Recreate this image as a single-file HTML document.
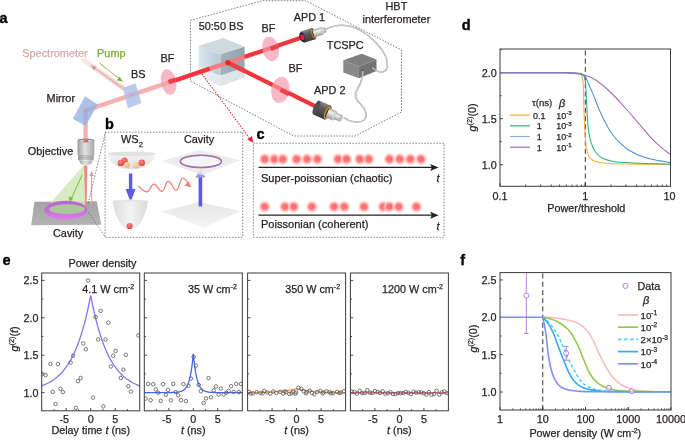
<!DOCTYPE html>
<html><head><meta charset="utf-8"><style>
html,body{margin:0;padding:0;background:#fff;}
body{width:685px;height:440px;overflow:hidden;}
svg{display:block;font-family:"Liberation Sans",sans-serif;will-change:transform;}
</style></head><body>
<svg width="685" height="440" viewBox="0 0 685 440">
<rect width="685" height="440" fill="#fff"/>
<defs>
<linearGradient id="gDark" x1="0" y1="0" x2="0" y2="1">
 <stop offset="0" stop-color="#8a8a8a"/><stop offset="0.35" stop-color="#5c5c5c"/><stop offset="1" stop-color="#3a3a3a"/>
</linearGradient>
<linearGradient id="gSilver" x1="0" y1="0" x2="0" y2="1">
 <stop offset="0" stop-color="#a8a8a8"/><stop offset="0.35" stop-color="#f2f2f2"/><stop offset="1" stop-color="#9a9a9a"/>
</linearGradient>
<linearGradient id="gObj" x1="0" y1="0" x2="1" y2="0">
 <stop offset="0" stop-color="#9c9c9c"/><stop offset="0.45" stop-color="#e4e4e4"/><stop offset="1" stop-color="#a4a4a4"/>
</linearGradient>
<linearGradient id="gCubeL" x1="0" y1="0" x2="1" y2="0">
 <stop offset="0" stop-color="#dce8f0"/><stop offset="1" stop-color="#b9c9d3"/>
</linearGradient>
<linearGradient id="gCubeR" x1="0" y1="0" x2="1" y2="0">
 <stop offset="0" stop-color="#a3b3bd"/><stop offset="1" stop-color="#93a4ae"/>
</linearGradient>
<linearGradient id="gCubeBot" x1="0" y1="0" x2="0" y2="1">
 <stop offset="0" stop-color="#ffffff" stop-opacity="0"/><stop offset="1" stop-color="#ffffff" stop-opacity="0.55"/>
</linearGradient>
<linearGradient id="gPlate" x1="0" y1="0" x2="0" y2="1">
 <stop offset="0" stop-color="#a4a4a4"/><stop offset="1" stop-color="#b2b2b2"/>
</linearGradient>
<linearGradient id="gRing" x1="0" y1="0" x2="0" y2="1">
 <stop offset="0" stop-color="#bb62d2"/><stop offset="0.5" stop-color="#c868dc"/><stop offset="1" stop-color="#e07cf2"/>
</linearGradient>
<linearGradient id="gTcF" x1="0" y1="0" x2="0" y2="1">
 <stop offset="0" stop-color="#7a7a7a"/><stop offset="1" stop-color="#6a6a6a"/>
</linearGradient>
<marker id="mRed" viewBox="0 0 10 10" refX="9" refY="5" markerWidth="5" markerHeight="5" orient="auto" markerUnits="userSpaceOnUse"><path d="M0,0 L10,5 L0,10 z" fill="#e8202a"/></marker>
</defs>
<path d="M190.4,20.4 L262.3,0.7 L305.7,0.7 L401.5,50.0 L401.5,112.0 L355.0,136.0 L293.6,136.0 L190.4,81.0 Z" fill="none" stroke="#555" stroke-width="0.75" stroke-dasharray="1.6,1.4"/>
<polygon points="198.5,45.9 223.2,37.9 244.6,46.7 220.0,54.6" fill="#cfd9df"/>
<polygon points="198.5,45.9 220.0,54.6 220.0,86.0 198.5,74.5" fill="url(#gCubeL)"/>
<polygon points="220.0,54.6 244.6,46.7 244.6,76.9 220.0,86.0" fill="url(#gCubeR)"/>
<polygon points="198.5,66.0 220.0,75.5 244.6,67.5 244.6,76.9 220.0,86.0 198.5,74.5" fill="#e9eef2" opacity="0.85"/>
<line x1="220" y1="54.6" x2="220" y2="86" stroke="#eef3f6" stroke-width="0.6"/>
<linearGradient id="gGlow" gradientUnits="userSpaceOnUse" x1="83" y1="60" x2="122.8" y2="87.9"><stop offset="0" stop-color="#fde6e6"/><stop offset="1" stop-color="#f9cccc"/></linearGradient>
<line x1="122.8" y1="87.9" x2="83.5" y2="60.2" stroke="url(#gGlow)" stroke-width="4.6" stroke-linecap="round"/>
<line x1="85.0" y1="110.6" x2="168.4" y2="82.6" stroke="#f5b0b0" stroke-width="4.3"/>
<line x1="168.4" y1="82.6" x2="210.0" y2="68.6" stroke="#f2353c" stroke-width="4.3"/>
<line x1="210.0" y1="68.6" x2="244.6" y2="57.0" stroke="#f27c82" stroke-width="4.3"/>
<line x1="244.6" y1="56.9" x2="302.3" y2="37.2" stroke="#f2353c" stroke-width="4.3"/>
<line x1="227.9" y1="62.6" x2="315.5" y2="106.4" stroke="#f2353c" stroke-width="4.3"/>
<line x1="229.9" y1="63.6" x2="244.6" y2="71.0" stroke="#e5444b" stroke-width="4.3"/>
<circle cx="227.9" cy="62.6" r="2.6" fill="#d82a32"/>
<line x1="85.6" y1="110.6" x2="85.6" y2="142" stroke="#f5b0b0" stroke-width="4.3"/>
<ellipse cx="168.6" cy="82.0" rx="7.6" ry="13.0" fill="#f59aae" opacity="0.7" transform="rotate(-11 168.6 82.0)"/>
<line x1="168.60" y1="82.00" x2="175.59" y2="79.65" stroke="#f2353c" stroke-width="4.3" opacity="0.85"/>
<ellipse cx="270.6" cy="48.9" rx="8.3" ry="12.4" fill="#f59aae" opacity="0.7" transform="rotate(-13 270.6 48.9)"/>
<line x1="270.60" y1="48.90" x2="278.24" y2="46.29" stroke="#f2353c" stroke-width="4.3" opacity="0.85"/>
<ellipse cx="280.4" cy="89.9" rx="9.2" ry="13.2" fill="#f59aae" opacity="0.7" transform="rotate(10 280.4 89.9)"/>
<line x1="280.40" y1="89.90" x2="288.86" y2="94.13" stroke="#f2353c" stroke-width="4.3" opacity="0.85"/>
<polygon points="122.8,87.9 135.6,83.2 141.5,103.1 127.9,108.2" fill="#a9bde6" opacity="0.78"/>
<circle cx="131.8" cy="94.9" r="1.8" fill="#e09aa8" opacity="0.7"/>
<polygon points="85,96.2 97.7,104.4 85.5,125.9 72.8,118.7" fill="#93b0e2" opacity="0.78"/>
<circle cx="85.2" cy="110.8" r="1.8" fill="#d890a0" opacity="0.7"/>
<line x1="121.5" y1="87.2" x2="93.5" y2="67.3" stroke="#c99a9a" stroke-width="0.9"/>
<path d="M90.6,65.2 L96.6,67.1 L94.2,70.4 Z" fill="#c99a9a"/>
<line x1="99.4" y1="62.9" x2="119.5" y2="79" stroke="#76b82a" stroke-width="0.9"/>
<path d="M123,81.8 L116.8,80.3 L119.6,76.7 Z" fill="#76b82a"/>
<rect x="77.5" y="140.2" width="16.8" height="14.6" fill="url(#gObj)"/>
<ellipse cx="85.9" cy="140.4" rx="8.3" ry="1.9" fill="#8a8a8a"/>
<ellipse cx="85.9" cy="140.9" rx="7.2" ry="1.3" fill="#cfcfcf"/>
<rect x="83.6" y="139.6" width="4.6" height="2.6" fill="#c45a5a" opacity="0.8"/>
<rect x="78.2" y="154.6" width="15.4" height="5.8" fill="url(#gObj)"/>
<g stroke="#8a8a8a" stroke-width="0.5"><line x1="78.2" y1="155.8" x2="93.6" y2="155.8"/><line x1="78.2" y1="157.4" x2="93.6" y2="157.4"/><line x1="78.2" y1="159" x2="93.6" y2="159"/></g>
<path d="M79,160.4 L92.7,160.4 L91,164 Q85.9,166.2 80.8,164 Z" fill="url(#gObj)"/>
<polygon points="34.5,201.8 96.7,201.2 101.3,224.7 31.2,225.2" fill="url(#gPlate)"/>
<polygon points="83.6,165.5 86.2,165.5 86.2,206 50.3,203" fill="#cde6b6" opacity="0.8"/>
<ellipse cx="65.9" cy="210.15" rx="21.5" ry="9.35" fill="url(#gRing)"/>
<ellipse cx="67.0" cy="209.2" rx="17.8" ry="4.9" fill="#a9c79a"/>
<polygon points="84.2,165.5 87.4,165.5 86.5,207.5 85.2,207.5" fill="#f07a7a" opacity="0.9"/>
<line x1="82" y1="175.1" x2="71.2" y2="199" stroke="#78c030" stroke-width="1"/>
<path d="M69.7,202.6 L68.8,196.3 L73.2,198.3 Z" fill="#78c030"/>
<line x1="91.6" y1="206" x2="91.6" y2="174.5" stroke="#d8a2aa" stroke-width="1"/>
<path d="M91.6,170.8 L94,176 L89.2,176 Z" fill="#d8a2aa"/>
<g stroke="#555" stroke-width="0.7" stroke-dasharray="1.5,1.5" fill="none">
<line x1="88.2" y1="203" x2="105.5" y2="132.3"/>
<line x1="88.2" y1="212" x2="105.5" y2="237.3"/>
</g>
<g transform="translate(302.30,37.20) rotate(-17.70)"><rect x="0" y="-5.90" width="11.80" height="11.80" fill="url(#gDark)"/><ellipse cx="11.80" cy="0" rx="2.12" ry="5.90" fill="#3a3a3a"/><ellipse cx="12.00" cy="0" rx="1.77" ry="4.72" fill="none" stroke="#d9901c" stroke-width="1.00"/><rect x="11.80" y="-3.90" width="9.50" height="7.80" fill="url(#gSilver)"/><ellipse cx="21.30" cy="0" rx="1.36" ry="3.90" fill="#cfcfcf"/><rect x="21.30" y="-2.50" width="2.60" height="5.00" fill="url(#gSilver)"/><ellipse cx="23.90" cy="0" rx="0.88" ry="2.50" fill="#c4c4c4" stroke="#999" stroke-width="0.3"/><ellipse cx="0" cy="0" rx="2.66" ry="5.31" fill="#1c2348"/><ellipse cx="0.2" cy="0" rx="1.89" ry="2.95" fill="#e8202a"/></g>
<g transform="translate(316.40,107.60) rotate(24.00)"><rect x="0" y="-7.60" width="12.20" height="15.20" fill="url(#gDark)"/><ellipse cx="12.20" cy="0" rx="2.74" ry="7.60" fill="#3a3a3a"/><ellipse cx="12.40" cy="0" rx="2.28" ry="6.08" fill="none" stroke="#d9901c" stroke-width="1.29"/><rect x="12.20" y="-5.00" width="8.00" height="10.00" fill="url(#gSilver)"/><ellipse cx="20.20" cy="0" rx="1.75" ry="5.00" fill="#cfcfcf"/><rect x="20.20" y="-3.40" width="6.50" height="6.80" fill="url(#gSilver)"/><ellipse cx="26.70" cy="0" rx="1.19" ry="3.40" fill="#c4c4c4" stroke="#999" stroke-width="0.3"/><ellipse cx="0" cy="0" rx="2.74" ry="7.60" fill="#505050"/></g>
<polygon points="343.3,60.3 361.8,53.7 376.5,59.5 358.9,66.4" fill="#7f7f7f"/>
<polygon points="343.3,60.3 358.9,66.4 358.9,78.3 343.3,72.6" fill="#888888"/>
<polygon points="358.9,66.4 376.5,59.5 376.5,71 358.9,78.3" fill="#747474"/>
<ellipse cx="362.6" cy="70.6" rx="1.3" ry="1.5" fill="#5c5c5c"/>
<ellipse cx="371.6" cy="66.9" rx="1.3" ry="1.5" fill="#5c5c5c"/>
<path d="M324.8,29.8 C330,27 336,25.2 343,25.3 C352,25.5 360,29 368,35.5 C376,42 382,48 385.5,56 C388.5,63 388,70 383.5,71.8 C379.5,73 375,70 371.8,67.2" fill="none" stroke="#9a9a9a" stroke-width="1.5"/>
<path d="M324.8,29.8 C330,27 336,25.2 343,25.3 C352,25.5 360,29 368,35.5 C376,42 382,48 385.5,56 C388.5,63 388,70 383.5,71.8 C379.5,73 375,70 371.8,67.2" fill="none" stroke="#f4f4f4" stroke-width="0.6"/>
<path d="M362.8,71 C363.2,78 360.5,84 357.5,89 C354,94 355.5,99.5 360.5,104 C366,109 368,116 364,120 C359,124 349,121.5 343.8,117.6" fill="none" stroke="#9a9a9a" stroke-width="1.5"/>
<path d="M362.8,71 C363.2,78 360.5,84 357.5,89 C354,94 355.5,99.5 360.5,104 C366,109 368,116 364,120 C359,124 349,121.5 343.8,117.6" fill="none" stroke="#f4f4f4" stroke-width="0.6"/>
<line x1="201.8" y1="73.8" x2="249.0" y2="137.4" stroke="#e41e26" stroke-width="1.05" stroke-dasharray="1.5,1.3"/>
<path d="M253.4,142.7 L247.2,139.5 L251.9,135.9 Z" fill="#e8202a"/>
<text x="22.3" y="56.8" font-size="10.9" text-anchor="start" fill="#d2a9aa" stroke="#d2a9aa" stroke-width="0.25" font-weight="normal" font-style="normal" >Spectrometer</text>
<text x="97.1" y="56.8" font-size="10.9" text-anchor="start" fill="#7aab2e" stroke="#7aab2e" stroke-width="0.25" font-weight="normal" font-style="normal" >Pump</text>
<text x="131" y="77.8" font-size="10.9" text-anchor="start" fill="#2a2324" stroke="#2a2324" stroke-width="0.25" font-weight="normal" font-style="normal" >BS</text>
<text x="160.6" y="62.2" font-size="10.9" text-anchor="start" fill="#2a2324" stroke="#2a2324" stroke-width="0.25" font-weight="normal" font-style="normal" >BF</text>
<text x="46.6" y="102" font-size="10.9" text-anchor="start" fill="#2a2324" stroke="#2a2324" stroke-width="0.25" font-weight="normal" font-style="normal" >Mirror</text>
<text x="27.8" y="154.5" font-size="10.9" text-anchor="start" fill="#2a2324" stroke="#2a2324" stroke-width="0.25" font-weight="normal" font-style="normal" >Objective</text>
<text x="53" y="236.6" font-size="10.9" text-anchor="start" fill="#2a2324" stroke="#2a2324" stroke-width="0.25" font-weight="normal" font-style="normal" >Cavity</text>
<text x="198.7" y="29.6" font-size="10.9" text-anchor="start" fill="#2a2324" stroke="#2a2324" stroke-width="0.25" font-weight="normal" font-style="normal" >50:50 BS</text>
<text x="261.6" y="31.8" font-size="10.9" text-anchor="start" fill="#2a2324" stroke="#2a2324" stroke-width="0.25" font-weight="normal" font-style="normal" >BF</text>
<text x="288.6" y="71.9" font-size="10.9" text-anchor="start" fill="#2a2324" stroke="#2a2324" stroke-width="0.25" font-weight="normal" font-style="normal" >BF</text>
<text x="293.7" y="20.6" font-size="10.9" text-anchor="start" fill="#2a2324" stroke="#2a2324" stroke-width="0.25" font-weight="normal" font-style="normal" >APD 1</text>
<text x="314" y="94.2" font-size="10.9" text-anchor="start" fill="#2a2324" stroke="#2a2324" stroke-width="0.25" font-weight="normal" font-style="normal" >APD 2</text>
<text x="326.8" y="49.1" font-size="10.9" text-anchor="start" fill="#2a2324" stroke="#2a2324" stroke-width="0.25" font-weight="normal" font-style="normal" >TCSPC</text>
<text x="396.4" y="9.9" font-size="10.9" text-anchor="middle" fill="#2a2324" stroke="#2a2324" stroke-width="0.25" font-weight="normal" font-style="normal" >HBT</text>
<text x="396.4" y="22.6" font-size="10.9" text-anchor="middle" fill="#2a2324" stroke="#2a2324" stroke-width="0.25" font-weight="normal" font-style="normal" >interferometer</text>
<defs>
<linearGradient id="gBowl" x1="0" y1="0" x2="0" y2="1">
 <stop offset="0" stop-color="#f4f4f4"/><stop offset="1" stop-color="#dedede"/>
</linearGradient>
<linearGradient id="gBowl2" x1="0" y1="0" x2="1" y2="0">
 <stop offset="0" stop-color="#dcdcdc"/><stop offset="0.5" stop-color="#f3f3f3"/><stop offset="1" stop-color="#dadada"/>
</linearGradient>
<radialGradient id="gRedDot" cx="0.4" cy="0.35" r="0.7">
 <stop offset="0" stop-color="#ff8a7a"/><stop offset="1" stop-color="#e03c3c"/>
</radialGradient>
<radialGradient id="gPeach" cx="0.4" cy="0.35" r="0.7">
 <stop offset="0" stop-color="#fde0b0"/><stop offset="1" stop-color="#eab070"/>
</radialGradient>
<linearGradient id="gPlane" x1="0" y1="0" x2="0" y2="1">
 <stop offset="0" stop-color="#e6e6e6"/><stop offset="1" stop-color="#f4f4f4"/>
</linearGradient>
</defs>
<rect x="105" y="132.2" width="137.7" height="105.1" fill="none" stroke="#555" stroke-width="0.7" stroke-dasharray="1.5,1.5"/>
<path d="M107.9,153.8 A23.65,15.4 0 0 0 155.2,153.8 Z" fill="url(#gBowl)"/>
<ellipse cx="131.55" cy="153.8" rx="23.65" ry="1.9" fill="#e2e2e2" stroke="#d4d4d4" stroke-width="0.4"/>
<circle cx="124.5" cy="160.6" r="3.1" fill="url(#gRedDot)"/>
<circle cx="120.8" cy="162.9" r="3.2" fill="url(#gRedDot)"/>
<circle cx="126.9" cy="165.0" r="3.0" fill="url(#gPeach)"/>
<circle cx="141.8" cy="162.7" r="3.2" fill="url(#gRedDot)"/>
<circle cx="136.2" cy="165.5" r="3.0" fill="url(#gPeach)"/>
<rect x="128.9" y="173.5" width="3.4" height="16" fill="#5b5be6"/>
<path d="M125.6,189 L135.6,189 L130.6,202 Z" fill="#5b5be6"/>
<path d="M112.6,200.9 C114,214 121,229.4 130.3,229.4 C139.6,229.4 146.4,214 147.9,200.9 Z" fill="url(#gBowl2)"/>
<ellipse cx="130.25" cy="200.9" rx="17.65" ry="1.3" fill="#e6e6e6"/>
<circle cx="129.6" cy="226" r="3.1" fill="url(#gRedDot)"/>
<path d="M138.8,186.1 C141.5,189.6 144,191.8 146.9,191.8 C150.45,191.80 150.45,184.20 154.00,184.20 C158.00,184.20 158.00,191.30 162.00,191.30 C165.10,191.30 165.10,181.40 168.20,181.40 C172.25,181.40 172.25,189.90 176.30,189.90 C179.60,189.90 179.60,178.10 182.90,178.10 C185,178.1 186.8,180.5 188.4,184.3" fill="none" stroke="#f17f70" stroke-width="1.25" stroke-linecap="round"/>
<path d="M191.3,187.6 L184.4,185.6 L188.9,181.6 Z" fill="#f17f70"/>
<polygon points="162.2,211.5 199,201.9 240.5,210.9 203.7,227.8" fill="url(#gPlane)"/>
<rect x="198.6" y="176" width="3.6" height="30.4" fill="#5b5be6"/>
<path d="M195.2,177.5 L205.6,177.5 L200.4,169.5 Z" fill="#9a9ae0"/>
<polygon points="161.5,161 199.6,150.1 239.9,160.3 202.5,175.3" fill="#e9e9e9" opacity="0.8"/>
<ellipse cx="200.9" cy="161.4" rx="20.6" ry="6.2" fill="#f6f6f6" stroke="#ffffff" stroke-width="2" opacity="0.9"/>
<ellipse cx="200.9" cy="161.4" rx="20.6" ry="6.2" fill="none" stroke="#6a78e8" stroke-width="1.5"/>
<ellipse cx="200.9" cy="161.4" rx="20.6" ry="6.2" fill="none" stroke="#ef6458" stroke-width="1.5" stroke-dasharray="1.2,1.3"/>
<text x="121.1" y="143.4" font-size="10.9" text-anchor="start" fill="#2a2324" stroke="#2a2324" stroke-width="0.25" font-weight="normal" font-style="normal" >WS<tspan font-size="7.5" dy="3.2">2</tspan></text>
<text x="199.1" y="143.4" font-size="10.9" text-anchor="middle" fill="#2a2324" stroke="#2a2324" stroke-width="0.25" font-weight="normal" font-style="normal" >Cavity</text>
<defs>
<radialGradient id="gBlob">
 <stop offset="0" stop-color="#ff6666"/><stop offset="0.38" stop-color="#ff6c6c"/><stop offset="0.5" stop-color="#ff9898"/><stop offset="0.74" stop-color="#ffc2c2" stop-opacity="0.75"/><stop offset="1" stop-color="#ffdcdc" stop-opacity="0"/>
</radialGradient>
</defs>
<rect x="253.4" y="143.3" width="190.7" height="94" fill="none" stroke="#555" stroke-width="0.7" stroke-dasharray="1.5,1.5"/>
<circle cx="264.7" cy="159.1" r="6.6" fill="url(#gBlob)"/>
<circle cx="274.4" cy="159.1" r="6.6" fill="url(#gBlob)"/>
<circle cx="282.7" cy="159.1" r="6.6" fill="url(#gBlob)"/>
<circle cx="296.6" cy="159.1" r="6.6" fill="url(#gBlob)"/>
<circle cx="307.1" cy="159.1" r="6.6" fill="url(#gBlob)"/>
<circle cx="317.4" cy="159.1" r="6.6" fill="url(#gBlob)"/>
<circle cx="338.2" cy="159.1" r="6.6" fill="url(#gBlob)"/>
<circle cx="346.5" cy="159.1" r="6.6" fill="url(#gBlob)"/>
<circle cx="359.9" cy="159.1" r="6.6" fill="url(#gBlob)"/>
<circle cx="368.7" cy="159.1" r="6.6" fill="url(#gBlob)"/>
<circle cx="389.5" cy="159.1" r="6.6" fill="url(#gBlob)"/>
<circle cx="399.8" cy="159.1" r="6.6" fill="url(#gBlob)"/>
<circle cx="410.3" cy="159.1" r="6.6" fill="url(#gBlob)"/>
<circle cx="420.9" cy="159.1" r="6.6" fill="url(#gBlob)"/>
<path d="M265.6,157.8 a1.3,1.6 0 1 0 0.2,2.6" fill="none" stroke="#ffa8a8" stroke-width="0.55" opacity="0.8"/>
<path d="M275.3,157.8 a1.3,1.6 0 1 0 0.2,2.6" fill="none" stroke="#ffa8a8" stroke-width="0.55" opacity="0.8"/>
<path d="M283.6,157.8 a1.3,1.6 0 1 0 0.2,2.6" fill="none" stroke="#ffa8a8" stroke-width="0.55" opacity="0.8"/>
<path d="M297.5,157.8 a1.3,1.6 0 1 0 0.2,2.6" fill="none" stroke="#ffa8a8" stroke-width="0.55" opacity="0.8"/>
<path d="M308.0,157.8 a1.3,1.6 0 1 0 0.2,2.6" fill="none" stroke="#ffa8a8" stroke-width="0.55" opacity="0.8"/>
<path d="M318.3,157.8 a1.3,1.6 0 1 0 0.2,2.6" fill="none" stroke="#ffa8a8" stroke-width="0.55" opacity="0.8"/>
<path d="M339.1,157.8 a1.3,1.6 0 1 0 0.2,2.6" fill="none" stroke="#ffa8a8" stroke-width="0.55" opacity="0.8"/>
<path d="M347.4,157.8 a1.3,1.6 0 1 0 0.2,2.6" fill="none" stroke="#ffa8a8" stroke-width="0.55" opacity="0.8"/>
<path d="M360.8,157.8 a1.3,1.6 0 1 0 0.2,2.6" fill="none" stroke="#ffa8a8" stroke-width="0.55" opacity="0.8"/>
<path d="M369.6,157.8 a1.3,1.6 0 1 0 0.2,2.6" fill="none" stroke="#ffa8a8" stroke-width="0.55" opacity="0.8"/>
<path d="M390.4,157.8 a1.3,1.6 0 1 0 0.2,2.6" fill="none" stroke="#ffa8a8" stroke-width="0.55" opacity="0.8"/>
<path d="M400.7,157.8 a1.3,1.6 0 1 0 0.2,2.6" fill="none" stroke="#ffa8a8" stroke-width="0.55" opacity="0.8"/>
<path d="M411.2,157.8 a1.3,1.6 0 1 0 0.2,2.6" fill="none" stroke="#ffa8a8" stroke-width="0.55" opacity="0.8"/>
<path d="M421.8,157.8 a1.3,1.6 0 1 0 0.2,2.6" fill="none" stroke="#ffa8a8" stroke-width="0.55" opacity="0.8"/>
<circle cx="264.7" cy="206.7" r="6.6" fill="url(#gBlob)"/>
<circle cx="285.0" cy="206.7" r="6.6" fill="url(#gBlob)"/>
<circle cx="293.8" cy="206.7" r="6.6" fill="url(#gBlob)"/>
<circle cx="311.9" cy="206.7" r="6.6" fill="url(#gBlob)"/>
<circle cx="334.1" cy="206.7" r="6.6" fill="url(#gBlob)"/>
<circle cx="344.3" cy="206.7" r="6.6" fill="url(#gBlob)"/>
<circle cx="364.0" cy="206.7" r="6.6" fill="url(#gBlob)"/>
<circle cx="383.2" cy="206.7" r="6.6" fill="url(#gBlob)"/>
<circle cx="389.5" cy="206.7" r="6.6" fill="url(#gBlob)"/>
<circle cx="398.7" cy="206.7" r="6.6" fill="url(#gBlob)"/>
<circle cx="416.4" cy="206.7" r="6.6" fill="url(#gBlob)"/>
<path d="M265.6,205.4 a1.3,1.6 0 1 0 0.2,2.6" fill="none" stroke="#ffa8a8" stroke-width="0.55" opacity="0.8"/>
<path d="M285.9,205.4 a1.3,1.6 0 1 0 0.2,2.6" fill="none" stroke="#ffa8a8" stroke-width="0.55" opacity="0.8"/>
<path d="M294.7,205.4 a1.3,1.6 0 1 0 0.2,2.6" fill="none" stroke="#ffa8a8" stroke-width="0.55" opacity="0.8"/>
<path d="M312.8,205.4 a1.3,1.6 0 1 0 0.2,2.6" fill="none" stroke="#ffa8a8" stroke-width="0.55" opacity="0.8"/>
<path d="M335.0,205.4 a1.3,1.6 0 1 0 0.2,2.6" fill="none" stroke="#ffa8a8" stroke-width="0.55" opacity="0.8"/>
<path d="M345.2,205.4 a1.3,1.6 0 1 0 0.2,2.6" fill="none" stroke="#ffa8a8" stroke-width="0.55" opacity="0.8"/>
<path d="M364.9,205.4 a1.3,1.6 0 1 0 0.2,2.6" fill="none" stroke="#ffa8a8" stroke-width="0.55" opacity="0.8"/>
<path d="M384.1,205.4 a1.3,1.6 0 1 0 0.2,2.6" fill="none" stroke="#ffa8a8" stroke-width="0.55" opacity="0.8"/>
<path d="M390.4,205.4 a1.3,1.6 0 1 0 0.2,2.6" fill="none" stroke="#ffa8a8" stroke-width="0.55" opacity="0.8"/>
<path d="M399.6,205.4 a1.3,1.6 0 1 0 0.2,2.6" fill="none" stroke="#ffa8a8" stroke-width="0.55" opacity="0.8"/>
<path d="M417.3,205.4 a1.3,1.6 0 1 0 0.2,2.6" fill="none" stroke="#ffa8a8" stroke-width="0.55" opacity="0.8"/>
<line x1="258.5" y1="167.4" x2="432" y2="167.4" stroke="#231f20" stroke-width="1.2"/>
<path d="M438.6,167.4 L430.2,163.9 L431.8,167.4 L430.2,170.9 Z" fill="#231f20"/>
<line x1="258.5" y1="215.2" x2="432" y2="215.2" stroke="#231f20" stroke-width="1.2"/>
<path d="M438.6,215.2 L430.2,211.7 L431.8,215.2 L430.2,218.7 Z" fill="#231f20"/>
<text x="261" y="181.7" font-size="11.05" text-anchor="start" fill="#2a2324" stroke="#2a2324" stroke-width="0.25" font-weight="normal" font-style="normal" >Super-poissonian (chaotic)</text>
<text x="261" y="228.4" font-size="11.05" text-anchor="start" fill="#2a2324" stroke="#2a2324" stroke-width="0.25" font-weight="normal" font-style="normal" >Poissonian (coherent)</text>
<text x="436.6" y="182" font-size="10.9" text-anchor="start" fill="#2a2324" stroke="#2a2324" stroke-width="0.25" font-weight="normal" font-style="italic" >t</text>
<text x="436.6" y="229.8" font-size="10.9" text-anchor="start" fill="#2a2324" stroke="#2a2324" stroke-width="0.25" font-weight="normal" font-style="italic" >t</text>
<g stroke="#333" stroke-width="0.9"><line x1="500" y1="72.7" x2="503" y2="72.7"/><line x1="500" y1="118.7" x2="503" y2="118.7"/><line x1="500" y1="164.7" x2="503" y2="164.7"/><line x1="500" y1="49.7" x2="501.8" y2="49.7"/><line x1="500" y1="95.7" x2="501.8" y2="95.7"/><line x1="500" y1="141.7" x2="501.8" y2="141.7"/><line x1="500" y1="186.3" x2="500" y2="183.3"/><line x1="525.66" y1="186.3" x2="525.66" y2="184.5"/><line x1="540.67" y1="186.3" x2="540.67" y2="184.5"/><line x1="551.33" y1="186.3" x2="551.33" y2="184.5"/><line x1="559.59" y1="186.3" x2="559.59" y2="184.5"/><line x1="566.34" y1="186.3" x2="566.34" y2="184.5"/><line x1="572.04" y1="186.3" x2="572.04" y2="184.5"/><line x1="576.99" y1="186.3" x2="576.99" y2="184.5"/><line x1="581.35" y1="186.3" x2="581.35" y2="184.5"/><line x1="585.25" y1="186.3" x2="585.25" y2="183.3"/><line x1="585.25" y1="186.3" x2="585.25" y2="183.3"/><line x1="610.91" y1="186.3" x2="610.91" y2="184.5"/><line x1="625.92" y1="186.3" x2="625.92" y2="184.5"/><line x1="636.58" y1="186.3" x2="636.58" y2="184.5"/><line x1="644.84" y1="186.3" x2="644.84" y2="184.5"/><line x1="651.59" y1="186.3" x2="651.59" y2="184.5"/><line x1="657.29" y1="186.3" x2="657.29" y2="184.5"/><line x1="662.24" y1="186.3" x2="662.24" y2="184.5"/><line x1="666.6" y1="186.3" x2="666.6" y2="184.5"/><line x1="670.5" y1="186.3" x2="670.5" y2="183.3"/></g>
<line x1="585.3" y1="50.5" x2="585.3" y2="186.3" stroke="#333" stroke-width="1" stroke-dasharray="5,3.2"/>
<path d="M500,72.7 C510.83,72.7 552.5,72.62 565,72.7 C577.5,72.78 572.62,73.05 575,73.2 C577.38,73.35 578.13,73.05 579.3,73.6 C580.47,74.15 581.33,74.42 582,76.5 C582.67,78.58 582.97,80.15 583.3,86.1 C583.63,92.05 583.67,103.5 584,112.2 C584.33,120.9 584.77,131.78 585.3,138.3 C585.83,144.82 586.45,148.05 587.2,151.3 C587.95,154.55 588.28,156.07 589.8,157.8 C591.32,159.53 593.48,160.8 596.3,161.7 C599.12,162.6 601.92,162.82 606.7,163.2 C611.48,163.58 614.37,163.8 625,164 C635.63,164.2 662.92,164.33 670.5,164.4" fill="none" stroke="#f2b134" stroke-width="1.05"/>
<path d="M500,72.7 C510.83,72.7 552.17,72.62 565,72.7 C577.83,72.78 574.05,72.93 577,73.2 C579.95,73.47 581.32,73.02 582.7,74.3 C584.08,75.58 584.68,76.77 585.3,80.9 C585.92,85.03 585.95,91.72 586.4,99.1 C586.85,106.48 587.3,118.23 588,125.2 C588.7,132.17 589.43,136.55 590.6,140.9 C591.77,145.25 593.18,148.48 595,151.3 C596.82,154.12 598.67,156.15 601.5,157.8 C604.33,159.45 608.08,160.4 612,161.2 C615.92,162 619.5,162.22 625,162.6 C630.5,162.98 637.42,163.27 645,163.5 C652.58,163.73 666.25,163.92 670.5,164" fill="none" stroke="#2bb08c" stroke-width="1.05"/>
<path d="M500,72.7 C510.83,72.7 552.17,72.6 565,72.7 C577.83,72.8 573.73,72.8 577,73.3 C580.27,73.8 582.95,74.58 584.6,75.7 C586.25,76.82 585.95,77.95 586.9,80 C587.85,82.05 589.15,85.35 590.3,88 C591.45,90.65 592.17,91.93 593.8,95.9 C595.43,99.87 597.72,106.48 600.1,111.8 C602.48,117.12 605.78,123.68 608.1,127.8 C610.42,131.92 611.88,133.85 614,136.5 C616.12,139.15 618.47,141.53 620.8,143.7 C623.13,145.87 625.1,147.63 628,149.5 C630.9,151.37 634.23,153.27 638.2,154.9 C642.17,156.53 646.42,158.02 651.8,159.3 C657.18,160.58 667.38,162.05 670.5,162.6" fill="none" stroke="#4a90c8" stroke-width="1.05"/>
<path d="M500,72.7 C509.17,72.7 543.67,72.67 555,72.7 C566.33,72.73 564.33,72.73 568,72.9 C571.67,73.07 574.17,73.32 577,73.7 C579.83,74.08 581.82,74.12 585,75.2 C588.18,76.28 591.8,77.32 596.1,80.2 C600.4,83.08 606.02,87.95 610.8,92.5 C615.58,97.05 620.23,102.43 624.8,107.5 C629.37,112.57 633.7,117.72 638.2,122.9 C642.7,128.08 648,134.55 651.8,138.6 C655.6,142.65 657.88,144.53 661,147.2 C664.12,149.87 668.92,153.37 670.5,154.6" fill="none" stroke="#a567c0" stroke-width="1.05"/>
<rect x="500.0" y="49.0" width="170.5" height="137.3" fill="none" stroke="#3a3a3a" stroke-width="1.0"/>
<text x="496.8" y="76.6" font-size="10.8" text-anchor="end" fill="#2a2324" stroke="#2a2324" stroke-width="0.25" font-weight="normal" font-style="normal" >2.0</text>
<text x="496.8" y="122.6" font-size="10.8" text-anchor="end" fill="#2a2324" stroke="#2a2324" stroke-width="0.25" font-weight="normal" font-style="normal" >1.5</text>
<text x="496.8" y="168.6" font-size="10.8" text-anchor="end" fill="#2a2324" stroke="#2a2324" stroke-width="0.25" font-weight="normal" font-style="normal" >1.0</text>
<text x="500" y="199.6" font-size="10.8" text-anchor="middle" fill="#2a2324" stroke="#2a2324" stroke-width="0.25" font-weight="normal" font-style="normal" >0.1</text>
<text x="585.25" y="199.6" font-size="10.8" text-anchor="middle" fill="#2a2324" stroke="#2a2324" stroke-width="0.25" font-weight="normal" font-style="normal" >1</text>
<text x="669.5" y="199.6" font-size="10.8" text-anchor="middle" fill="#2a2324" stroke="#2a2324" stroke-width="0.25" font-weight="normal" font-style="normal" >10</text>
<text x="586.3" y="212.3" font-size="10.8" text-anchor="middle" fill="#2a2324" stroke="#2a2324" stroke-width="0.25" font-weight="normal" font-style="normal" >Power/threshold</text>
<text transform="translate(476.2,117.4) rotate(-90)" font-size="10.8" text-anchor="middle" fill="#2a2324" stroke="#2a2324" stroke-width="0.25"><tspan font-style="italic">g</tspan><tspan font-size="7.2" dy="-4">(2)</tspan><tspan dy="4">(0)</tspan></text>
<text x="532" y="106.4" font-size="9.6" text-anchor="start" fill="#2a2324" stroke="#2a2324" stroke-width="0.25" font-weight="normal" font-style="normal" >&#964;(ns)</text>
<text x="559" y="106.6" font-size="10.8" text-anchor="start" fill="#2a2324" stroke="#2a2324" stroke-width="0.25" font-weight="normal" font-style="italic" >&#946;</text>
<line x1="509.9" y1="115.1" x2="529.9" y2="115.1" stroke="#f2b134" stroke-width="1.2"/>
<text x="539.2" y="118.5" font-size="9.0" text-anchor="middle" fill="#2a2324" stroke="#2a2324" stroke-width="0.25" font-weight="normal" font-style="normal" >0.1</text>
<text x="556.3" y="118.5" font-size="9.0" text-anchor="start" fill="#2a2324" stroke="#2a2324" stroke-width="0.25" font-weight="normal" font-style="normal" >10<tspan font-size="6.2" dy="-3.3">-3</tspan></text>
<line x1="509.9" y1="125.8" x2="529.9" y2="125.8" stroke="#2bb08c" stroke-width="1.2"/>
<text x="539.2" y="129.2" font-size="9.0" text-anchor="middle" fill="#2a2324" stroke="#2a2324" stroke-width="0.25" font-weight="normal" font-style="normal" >1</text>
<text x="556.3" y="129.2" font-size="9.0" text-anchor="start" fill="#2a2324" stroke="#2a2324" stroke-width="0.25" font-weight="normal" font-style="normal" >10<tspan font-size="6.2" dy="-3.3">-3</tspan></text>
<line x1="509.9" y1="136.5" x2="529.9" y2="136.5" stroke="#8ab0d8" stroke-width="1.2"/>
<text x="539.2" y="139.9" font-size="9.0" text-anchor="middle" fill="#2a2324" stroke="#2a2324" stroke-width="0.25" font-weight="normal" font-style="normal" >1</text>
<text x="556.3" y="139.9" font-size="9.0" text-anchor="start" fill="#2a2324" stroke="#2a2324" stroke-width="0.25" font-weight="normal" font-style="normal" >10<tspan font-size="6.2" dy="-3.3">-2</tspan></text>
<line x1="509.9" y1="147.2" x2="529.9" y2="147.2" stroke="#a567c0" stroke-width="1.2"/>
<text x="539.2" y="150.6" font-size="9.0" text-anchor="middle" fill="#2a2324" stroke="#2a2324" stroke-width="0.25" font-weight="normal" font-style="normal" >1</text>
<text x="556.3" y="150.6" font-size="9.0" text-anchor="start" fill="#2a2324" stroke="#2a2324" stroke-width="0.25" font-weight="normal" font-style="normal" >10<tspan font-size="6.2" dy="-3.3">-1</tspan></text>
<g>
<g stroke="#333" stroke-width="0.9"><line x1="41.7" y1="280.4" x2="44.5" y2="280.4"/><line x1="41.7" y1="317.8" x2="44.5" y2="317.8"/><line x1="41.7" y1="355.2" x2="44.5" y2="355.2"/><line x1="41.7" y1="392.6" x2="44.5" y2="392.6"/><line x1="41.7" y1="299.1" x2="43.3" y2="299.1"/><line x1="41.7" y1="336.5" x2="43.3" y2="336.5"/><line x1="41.7" y1="373.9" x2="43.3" y2="373.9"/><line x1="53.95" y1="410.8" x2="53.95" y2="409.2"/><line x1="66.2" y1="410.8" x2="66.2" y2="408"/><line x1="78.45" y1="410.8" x2="78.45" y2="409.2"/><line x1="90.7" y1="410.8" x2="90.7" y2="408"/><line x1="102.95" y1="410.8" x2="102.95" y2="409.2"/><line x1="115.2" y1="410.8" x2="115.2" y2="408"/><line x1="127.45" y1="410.8" x2="127.45" y2="409.2"/></g>
<clipPath id="ce0"><rect x="41.7" y="273.0" width="98.0" height="137.8"/></clipPath>
<g clip-path="url(#ce0)">
<path d="M41.7,385.84 L42.19,385.66 L42.68,385.47 L43.17,385.28 L43.66,385.08 L44.15,384.88 L44.64,384.67 L45.13,384.46 L45.62,384.24 L46.11,384.01 L46.6,383.78 L47.09,383.54 L47.58,383.3 L48.07,383.04 L48.56,382.79 L49.05,382.52 L49.54,382.25 L50.03,381.97 L50.52,381.68 L51.01,381.39 L51.5,381.08 L51.99,380.77 L52.48,380.45 L52.97,380.12 L53.46,379.79 L53.95,379.44 L54.44,379.08 L54.93,378.72 L55.42,378.34 L55.91,377.96 L56.4,377.56 L56.89,377.16 L57.38,376.74 L57.87,376.31 L58.36,375.87 L58.85,375.42 L59.34,374.95 L59.83,374.48 L60.32,373.99 L60.81,373.48 L61.3,372.97 L61.79,372.44 L62.28,371.89 L62.77,371.33 L63.26,370.76 L63.75,370.17 L64.24,369.56 L64.73,368.94 L65.22,368.3 L65.71,367.64 L66.2,366.97 L66.69,366.28 L67.18,365.56 L67.67,364.83 L68.16,364.08 L68.65,363.31 L69.14,362.52 L69.63,361.71 L70.12,360.87 L70.61,360.02 L71.1,359.13 L71.59,358.23 L72.08,357.3 L72.57,356.35 L73.06,355.37 L73.55,354.36 L74.04,353.33 L74.53,352.27 L75.02,351.18 L75.51,350.06 L76,348.91 L76.49,347.73 L76.98,346.51 L77.47,345.27 L77.96,343.99 L78.45,342.68 L78.94,341.33 L79.43,339.94 L79.92,338.52 L80.41,337.06 L80.9,335.55 L81.39,334.01 L81.88,332.43 L82.37,330.8 L82.86,329.13 L83.35,327.42 L83.84,325.66 L84.33,323.85 L84.82,321.99 L85.31,320.08 L85.8,318.12 L86.29,316.11 L86.78,314.04 L87.27,311.92 L87.76,309.74 L88.25,307.5 L88.74,305.2 L89.23,302.84 L89.72,300.41 L90.21,297.92 L90.7,295.36 L91.19,297.92 L91.68,300.41 L92.17,302.84 L92.66,305.2 L93.15,307.5 L93.64,309.74 L94.13,311.92 L94.62,314.04 L95.11,316.11 L95.6,318.12 L96.09,320.08 L96.58,321.99 L97.07,323.85 L97.56,325.66 L98.05,327.42 L98.54,329.13 L99.03,330.8 L99.52,332.43 L100.01,334.01 L100.5,335.55 L100.99,337.06 L101.48,338.52 L101.97,339.94 L102.46,341.33 L102.95,342.68 L103.44,343.99 L103.93,345.27 L104.42,346.51 L104.91,347.73 L105.4,348.91 L105.89,350.06 L106.38,351.18 L106.87,352.27 L107.36,353.33 L107.85,354.36 L108.34,355.37 L108.83,356.35 L109.32,357.3 L109.81,358.23 L110.3,359.13 L110.79,360.02 L111.28,360.87 L111.77,361.71 L112.26,362.52 L112.75,363.31 L113.24,364.08 L113.73,364.83 L114.22,365.56 L114.71,366.28 L115.2,366.97 L115.69,367.64 L116.18,368.3 L116.67,368.94 L117.16,369.56 L117.65,370.17 L118.14,370.76 L118.63,371.33 L119.12,371.89 L119.61,372.44 L120.1,372.97 L120.59,373.48 L121.08,373.99 L121.57,374.48 L122.06,374.95 L122.55,375.42 L123.04,375.87 L123.53,376.31 L124.02,376.74 L124.51,377.16 L125,377.56 L125.49,377.96 L125.98,378.34 L126.47,378.72 L126.96,379.08 L127.45,379.44 L127.94,379.79 L128.43,380.12 L128.92,380.45 L129.41,380.77 L129.9,381.08 L130.39,381.39 L130.88,381.68 L131.37,381.97 L131.86,382.25 L132.35,382.52 L132.84,382.79 L133.33,383.04 L133.82,383.3 L134.31,383.54 L134.8,383.78 L135.29,384.01 L135.78,384.24 L136.27,384.46 L136.76,384.67 L137.25,384.88 L137.74,385.08 L138.23,385.28 L138.72,385.47 L139.21,385.66 L139.7,385.84" fill="none" stroke="#8c70f2" stroke-width="1.3"/>
<g fill="none" stroke="#5e5e5e" stroke-width="0.85"><circle cx="88" cy="280.5" r="1.75"/><circle cx="100.7" cy="310.9" r="1.75"/><circle cx="95.6" cy="317.1" r="1.75"/><circle cx="108.4" cy="322.6" r="1.75"/><circle cx="138.4" cy="335.4" r="1.75"/><circle cx="98.1" cy="339.5" r="1.75"/><circle cx="105.5" cy="339.5" r="1.75"/><circle cx="83.2" cy="343.4" r="1.75"/><circle cx="85.8" cy="349.2" r="1.75"/><circle cx="115.6" cy="350.9" r="1.75"/><circle cx="73.1" cy="355.7" r="1.75"/><circle cx="113.2" cy="355.7" r="1.75"/><circle cx="125.8" cy="354.8" r="1.75"/><circle cx="50.4" cy="363.9" r="1.75"/><circle cx="57.9" cy="364.1" r="1.75"/><circle cx="70.7" cy="362.6" r="1.75"/><circle cx="110.8" cy="366.5" r="1.75"/><circle cx="123.4" cy="369.7" r="1.75"/><circle cx="42.2" cy="374.1" r="1.75"/><circle cx="45.6" cy="375.1" r="1.75"/><circle cx="80.6" cy="378" r="1.75"/><circle cx="78" cy="381.2" r="1.75"/><circle cx="120.8" cy="378" r="1.75"/><circle cx="60.5" cy="388.7" r="1.75"/><circle cx="52.7" cy="391.8" r="1.75"/><circle cx="62.9" cy="392.2" r="1.75"/><circle cx="128.3" cy="386.2" r="1.75"/><circle cx="130.9" cy="391.6" r="1.75"/><circle cx="93.1" cy="397.6" r="1.75"/><circle cx="55.5" cy="404.1" r="1.75"/><circle cx="75.8" cy="407.8" r="1.75"/><circle cx="103.3" cy="406.4" r="1.75"/></g>
</g>
<rect x="41.7" y="273.0" width="98.0" height="137.8" fill="none" stroke="#3a3a3a" stroke-width="1.0"/>
<text x="134.2" y="293" font-size="10.8" text-anchor="end" fill="#2a2324" stroke="#2a2324" stroke-width="0.25" font-weight="normal" font-style="normal" >4.1 W cm<tspan font-size="7" dy="-4">-2</tspan></text>
<text x="64.2" y="422.6" font-size="10.8" text-anchor="middle" fill="#2a2324" stroke="#2a2324" stroke-width="0.25" font-weight="normal" font-style="normal" >-5</text>
<text x="90.7" y="422.6" font-size="10.8" text-anchor="middle" fill="#2a2324" stroke="#2a2324" stroke-width="0.25" font-weight="normal" font-style="normal" >0</text>
<text x="115.2" y="422.6" font-size="10.8" text-anchor="middle" fill="#2a2324" stroke="#2a2324" stroke-width="0.25" font-weight="normal" font-style="normal" >5</text>
<text x="90.7" y="434.3" font-size="10.8" text-anchor="middle" fill="#2a2324" stroke="#2a2324" stroke-width="0.25" font-weight="normal" font-style="normal" >Delay time <tspan font-style="italic">t</tspan> (ns)</text>
</g>
<g>
<g stroke="#333" stroke-width="0.9"><line x1="144.3" y1="280.4" x2="147.1" y2="280.4"/><line x1="144.3" y1="317.8" x2="147.1" y2="317.8"/><line x1="144.3" y1="355.2" x2="147.1" y2="355.2"/><line x1="144.3" y1="392.6" x2="147.1" y2="392.6"/><line x1="144.3" y1="299.1" x2="145.9" y2="299.1"/><line x1="144.3" y1="336.5" x2="145.9" y2="336.5"/><line x1="144.3" y1="373.9" x2="145.9" y2="373.9"/><line x1="156.55" y1="410.8" x2="156.55" y2="409.2"/><line x1="168.8" y1="410.8" x2="168.8" y2="408"/><line x1="181.05" y1="410.8" x2="181.05" y2="409.2"/><line x1="193.3" y1="410.8" x2="193.3" y2="408"/><line x1="205.55" y1="410.8" x2="205.55" y2="409.2"/><line x1="217.8" y1="410.8" x2="217.8" y2="408"/><line x1="230.05" y1="410.8" x2="230.05" y2="409.2"/></g>
<clipPath id="ce1"><rect x="144.3" y="273.0" width="98.0" height="137.8"/></clipPath>
<g clip-path="url(#ce1)">
<path d="M144.3,392.6 L144.42,392.6 L144.55,392.6 L144.67,392.6 L144.79,392.6 L144.91,392.6 L145.04,392.6 L145.16,392.6 L145.28,392.6 L145.4,392.6 L145.53,392.6 L145.65,392.6 L145.77,392.6 L145.89,392.6 L146.02,392.6 L146.14,392.6 L146.26,392.6 L146.38,392.6 L146.5,392.6 L146.63,392.6 L146.75,392.6 L146.87,392.6 L147,392.6 L147.12,392.6 L147.24,392.6 L147.36,392.6 L147.49,392.6 L147.61,392.6 L147.73,392.6 L147.85,392.6 L147.98,392.6 L148.1,392.6 L148.22,392.6 L148.34,392.6 L148.47,392.6 L148.59,392.6 L148.71,392.6 L148.83,392.6 L148.96,392.6 L149.08,392.6 L149.2,392.6 L149.32,392.6 L149.45,392.6 L149.57,392.6 L149.69,392.6 L149.81,392.6 L149.94,392.6 L150.06,392.6 L150.18,392.6 L150.3,392.6 L150.43,392.6 L150.55,392.6 L150.67,392.6 L150.79,392.6 L150.92,392.6 L151.04,392.6 L151.16,392.6 L151.28,392.6 L151.41,392.6 L151.53,392.6 L151.65,392.6 L151.77,392.6 L151.9,392.6 L152.02,392.6 L152.14,392.6 L152.26,392.6 L152.39,392.6 L152.51,392.6 L152.63,392.6 L152.75,392.6 L152.88,392.6 L153,392.6 L153.12,392.6 L153.24,392.6 L153.37,392.6 L153.49,392.6 L153.61,392.6 L153.73,392.6 L153.86,392.6 L153.98,392.6 L154.1,392.6 L154.22,392.6 L154.35,392.6 L154.47,392.6 L154.59,392.6 L154.71,392.6 L154.84,392.6 L154.96,392.6 L155.08,392.6 L155.2,392.6 L155.33,392.6 L155.45,392.6 L155.57,392.6 L155.69,392.6 L155.81,392.6 L155.94,392.6 L156.06,392.6 L156.18,392.6 L156.31,392.6 L156.43,392.6 L156.55,392.6 L156.67,392.6 L156.8,392.6 L156.92,392.6 L157.04,392.6 L157.16,392.6 L157.29,392.6 L157.41,392.6 L157.53,392.6 L157.65,392.6 L157.78,392.6 L157.9,392.6 L158.02,392.6 L158.14,392.6 L158.27,392.6 L158.39,392.6 L158.51,392.6 L158.63,392.6 L158.75,392.6 L158.88,392.6 L159,392.6 L159.12,392.6 L159.25,392.6 L159.37,392.6 L159.49,392.6 L159.61,392.6 L159.74,392.6 L159.86,392.6 L159.98,392.6 L160.1,392.6 L160.23,392.6 L160.35,392.6 L160.47,392.6 L160.59,392.6 L160.72,392.6 L160.84,392.6 L160.96,392.6 L161.08,392.6 L161.21,392.6 L161.33,392.6 L161.45,392.6 L161.57,392.6 L161.7,392.59 L161.82,392.59 L161.94,392.59 L162.06,392.59 L162.19,392.59 L162.31,392.59 L162.43,392.59 L162.55,392.59 L162.68,392.59 L162.8,392.59 L162.92,392.59 L163.04,392.59 L163.17,392.59 L163.29,392.59 L163.41,392.59 L163.53,392.59 L163.66,392.59 L163.78,392.59 L163.9,392.59 L164.02,392.59 L164.15,392.59 L164.27,392.59 L164.39,392.59 L164.51,392.59 L164.64,392.59 L164.76,392.59 L164.88,392.59 L165,392.59 L165.12,392.59 L165.25,392.59 L165.37,392.59 L165.49,392.59 L165.62,392.58 L165.74,392.58 L165.86,392.58 L165.98,392.58 L166.11,392.58 L166.23,392.58 L166.35,392.58 L166.47,392.58 L166.59,392.58 L166.72,392.58 L166.84,392.58 L166.96,392.58 L167.09,392.58 L167.21,392.58 L167.33,392.58 L167.45,392.57 L167.58,392.57 L167.7,392.57 L167.82,392.57 L167.94,392.57 L168.07,392.57 L168.19,392.57 L168.31,392.57 L168.43,392.57 L168.56,392.57 L168.68,392.56 L168.8,392.56 L168.92,392.56 L169.05,392.56 L169.17,392.56 L169.29,392.56 L169.41,392.56 L169.54,392.55 L169.66,392.55 L169.78,392.55 L169.9,392.55 L170.03,392.55 L170.15,392.55 L170.27,392.54 L170.39,392.54 L170.52,392.54 L170.64,392.54 L170.76,392.53 L170.88,392.53 L171.01,392.53 L171.13,392.53 L171.25,392.52 L171.37,392.52 L171.5,392.52 L171.62,392.52 L171.74,392.51 L171.86,392.51 L171.99,392.51 L172.11,392.5 L172.23,392.5 L172.35,392.5 L172.48,392.49 L172.6,392.49 L172.72,392.49 L172.84,392.48 L172.97,392.48 L173.09,392.47 L173.21,392.47 L173.33,392.46 L173.46,392.46 L173.58,392.45 L173.7,392.45 L173.82,392.44 L173.95,392.44 L174.07,392.43 L174.19,392.43 L174.31,392.42 L174.44,392.41 L174.56,392.41 L174.68,392.4 L174.8,392.39 L174.93,392.39 L175.05,392.38 L175.17,392.37 L175.29,392.36 L175.42,392.36 L175.54,392.35 L175.66,392.34 L175.78,392.33 L175.91,392.32 L176.03,392.31 L176.15,392.3 L176.27,392.29 L176.4,392.28 L176.52,392.27 L176.64,392.25 L176.76,392.24 L176.89,392.23 L177.01,392.22 L177.13,392.2 L177.25,392.19 L177.38,392.17 L177.5,392.16 L177.62,392.14 L177.74,392.13 L177.87,392.11 L177.99,392.09 L178.11,392.08 L178.23,392.06 L178.36,392.04 L178.48,392.02 L178.6,392 L178.72,391.98 L178.85,391.95 L178.97,391.93 L179.09,391.91 L179.21,391.88 L179.34,391.86 L179.46,391.83 L179.58,391.8 L179.7,391.78 L179.83,391.75 L179.95,391.72 L180.07,391.69 L180.19,391.65 L180.32,391.62 L180.44,391.58 L180.56,391.55 L180.68,391.51 L180.81,391.47 L180.93,391.43 L181.05,391.39 L181.17,391.35 L181.3,391.31 L181.42,391.26 L181.54,391.21 L181.66,391.16 L181.79,391.11 L181.91,391.06 L182.03,391.01 L182.15,390.95 L182.28,390.89 L182.4,390.83 L182.52,390.77 L182.64,390.7 L182.77,390.64 L182.89,390.57 L183.01,390.5 L183.13,390.42 L183.26,390.34 L183.38,390.26 L183.5,390.18 L183.62,390.1 L183.75,390.01 L183.87,389.92 L183.99,389.82 L184.11,389.72 L184.24,389.62 L184.36,389.52 L184.48,389.41 L184.6,389.29 L184.73,389.18 L184.85,389.06 L184.97,388.93 L185.09,388.8 L185.22,388.67 L185.34,388.53 L185.46,388.38 L185.58,388.24 L185.71,388.08 L185.83,387.92 L185.95,387.76 L186.07,387.59 L186.2,387.41 L186.32,387.23 L186.44,387.04 L186.56,386.84 L186.69,386.64 L186.81,386.42 L186.93,386.21 L187.05,385.98 L187.18,385.75 L187.3,385.5 L187.42,385.25 L187.54,384.99 L187.67,384.73 L187.79,384.45 L187.91,384.16 L188.03,383.86 L188.16,383.55 L188.28,383.23 L188.4,382.9 L188.52,382.56 L188.65,382.2 L188.77,381.84 L188.89,381.46 L189.01,381.06 L189.14,380.65 L189.26,380.23 L189.38,379.8 L189.5,379.34 L189.62,378.87 L189.75,378.39 L189.87,377.89 L189.99,377.37 L190.12,376.83 L190.24,376.27 L190.36,375.7 L190.48,375.1 L190.61,374.48 L190.73,373.84 L190.85,373.18 L190.97,372.49 L191.1,371.78 L191.22,371.04 L191.34,370.28 L191.46,369.49 L191.59,368.68 L191.71,367.83 L191.83,366.96 L191.95,366.05 L192.08,365.11 L192.2,364.14 L192.32,363.14 L192.44,362.1 L192.57,361.02 L192.69,359.9 L192.81,358.75 L192.93,357.55 L193.06,356.31 L193.18,355.03 L193.3,353.7 L193.42,355.03 L193.55,356.31 L193.67,357.55 L193.79,358.75 L193.91,359.9 L194.04,361.02 L194.16,362.1 L194.28,363.14 L194.4,364.14 L194.53,365.11 L194.65,366.05 L194.77,366.96 L194.89,367.83 L195.02,368.68 L195.14,369.49 L195.26,370.28 L195.38,371.04 L195.51,371.78 L195.63,372.49 L195.75,373.18 L195.87,373.84 L196,374.48 L196.12,375.1 L196.24,375.7 L196.36,376.27 L196.49,376.83 L196.61,377.37 L196.73,377.89 L196.85,378.39 L196.98,378.87 L197.1,379.34 L197.22,379.8 L197.34,380.23 L197.47,380.65 L197.59,381.06 L197.71,381.46 L197.83,381.84 L197.96,382.2 L198.08,382.56 L198.2,382.9 L198.32,383.23 L198.45,383.55 L198.57,383.86 L198.69,384.16 L198.81,384.45 L198.94,384.73 L199.06,384.99 L199.18,385.25 L199.3,385.5 L199.43,385.75 L199.55,385.98 L199.67,386.21 L199.79,386.42 L199.92,386.64 L200.04,386.84 L200.16,387.04 L200.28,387.23 L200.41,387.41 L200.53,387.59 L200.65,387.76 L200.77,387.92 L200.9,388.08 L201.02,388.24 L201.14,388.38 L201.26,388.53 L201.39,388.67 L201.51,388.8 L201.63,388.93 L201.75,389.06 L201.88,389.18 L202,389.29 L202.12,389.41 L202.24,389.52 L202.37,389.62 L202.49,389.72 L202.61,389.82 L202.73,389.92 L202.86,390.01 L202.98,390.1 L203.1,390.18 L203.22,390.26 L203.35,390.34 L203.47,390.42 L203.59,390.5 L203.71,390.57 L203.84,390.64 L203.96,390.7 L204.08,390.77 L204.2,390.83 L204.33,390.89 L204.45,390.95 L204.57,391.01 L204.69,391.06 L204.82,391.11 L204.94,391.16 L205.06,391.21 L205.18,391.26 L205.31,391.31 L205.43,391.35 L205.55,391.39 L205.67,391.43 L205.8,391.47 L205.92,391.51 L206.04,391.55 L206.16,391.58 L206.29,391.62 L206.41,391.65 L206.53,391.69 L206.65,391.72 L206.78,391.75 L206.9,391.78 L207.02,391.8 L207.14,391.83 L207.27,391.86 L207.39,391.88 L207.51,391.91 L207.63,391.93 L207.76,391.95 L207.88,391.98 L208,392 L208.12,392.02 L208.25,392.04 L208.37,392.06 L208.49,392.08 L208.61,392.09 L208.74,392.11 L208.86,392.13 L208.98,392.14 L209.1,392.16 L209.23,392.17 L209.35,392.19 L209.47,392.2 L209.59,392.22 L209.72,392.23 L209.84,392.24 L209.96,392.25 L210.08,392.27 L210.21,392.28 L210.33,392.29 L210.45,392.3 L210.57,392.31 L210.7,392.32 L210.82,392.33 L210.94,392.34 L211.06,392.35 L211.19,392.36 L211.31,392.36 L211.43,392.37 L211.55,392.38 L211.68,392.39 L211.8,392.39 L211.92,392.4 L212.04,392.41 L212.17,392.41 L212.29,392.42 L212.41,392.43 L212.53,392.43 L212.66,392.44 L212.78,392.44 L212.9,392.45 L213.02,392.45 L213.15,392.46 L213.27,392.46 L213.39,392.47 L213.51,392.47 L213.64,392.48 L213.76,392.48 L213.88,392.49 L214,392.49 L214.12,392.49 L214.25,392.5 L214.37,392.5 L214.49,392.5 L214.62,392.51 L214.74,392.51 L214.86,392.51 L214.98,392.52 L215.11,392.52 L215.23,392.52 L215.35,392.52 L215.47,392.53 L215.6,392.53 L215.72,392.53 L215.84,392.53 L215.96,392.54 L216.09,392.54 L216.21,392.54 L216.33,392.54 L216.45,392.55 L216.58,392.55 L216.7,392.55 L216.82,392.55 L216.94,392.55 L217.07,392.55 L217.19,392.56 L217.31,392.56 L217.43,392.56 L217.56,392.56 L217.68,392.56 L217.8,392.56 L217.92,392.56 L218.05,392.57 L218.17,392.57 L218.29,392.57 L218.41,392.57 L218.54,392.57 L218.66,392.57 L218.78,392.57 L218.9,392.57 L219.03,392.57 L219.15,392.57 L219.27,392.58 L219.39,392.58 L219.52,392.58 L219.64,392.58 L219.76,392.58 L219.88,392.58 L220.01,392.58 L220.13,392.58 L220.25,392.58 L220.37,392.58 L220.5,392.58 L220.62,392.58 L220.74,392.58 L220.86,392.58 L220.99,392.58 L221.11,392.59 L221.23,392.59 L221.35,392.59 L221.48,392.59 L221.6,392.59 L221.72,392.59 L221.84,392.59 L221.97,392.59 L222.09,392.59 L222.21,392.59 L222.33,392.59 L222.46,392.59 L222.58,392.59 L222.7,392.59 L222.82,392.59 L222.95,392.59 L223.07,392.59 L223.19,392.59 L223.31,392.59 L223.44,392.59 L223.56,392.59 L223.68,392.59 L223.8,392.59 L223.93,392.59 L224.05,392.59 L224.17,392.59 L224.29,392.59 L224.42,392.59 L224.54,392.59 L224.66,392.59 L224.78,392.59 L224.91,392.59 L225.03,392.6 L225.15,392.6 L225.27,392.6 L225.4,392.6 L225.52,392.6 L225.64,392.6 L225.76,392.6 L225.89,392.6 L226.01,392.6 L226.13,392.6 L226.25,392.6 L226.38,392.6 L226.5,392.6 L226.62,392.6 L226.74,392.6 L226.87,392.6 L226.99,392.6 L227.11,392.6 L227.23,392.6 L227.36,392.6 L227.48,392.6 L227.6,392.6 L227.72,392.6 L227.85,392.6 L227.97,392.6 L228.09,392.6 L228.21,392.6 L228.34,392.6 L228.46,392.6 L228.58,392.6 L228.7,392.6 L228.83,392.6 L228.95,392.6 L229.07,392.6 L229.19,392.6 L229.32,392.6 L229.44,392.6 L229.56,392.6 L229.68,392.6 L229.81,392.6 L229.93,392.6 L230.05,392.6 L230.17,392.6 L230.3,392.6 L230.42,392.6 L230.54,392.6 L230.66,392.6 L230.79,392.6 L230.91,392.6 L231.03,392.6 L231.15,392.6 L231.28,392.6 L231.4,392.6 L231.52,392.6 L231.64,392.6 L231.77,392.6 L231.89,392.6 L232.01,392.6 L232.13,392.6 L232.25,392.6 L232.38,392.6 L232.5,392.6 L232.62,392.6 L232.75,392.6 L232.87,392.6 L232.99,392.6 L233.11,392.6 L233.24,392.6 L233.36,392.6 L233.48,392.6 L233.6,392.6 L233.73,392.6 L233.85,392.6 L233.97,392.6 L234.09,392.6 L234.22,392.6 L234.34,392.6 L234.46,392.6 L234.58,392.6 L234.71,392.6 L234.83,392.6 L234.95,392.6 L235.07,392.6 L235.2,392.6 L235.32,392.6 L235.44,392.6 L235.56,392.6 L235.69,392.6 L235.81,392.6 L235.93,392.6 L236.05,392.6 L236.18,392.6 L236.3,392.6 L236.42,392.6 L236.54,392.6 L236.67,392.6 L236.79,392.6 L236.91,392.6 L237.03,392.6 L237.16,392.6 L237.28,392.6 L237.4,392.6 L237.52,392.6 L237.65,392.6 L237.77,392.6 L237.89,392.6 L238.01,392.6 L238.14,392.6 L238.26,392.6 L238.38,392.6 L238.5,392.6 L238.62,392.6 L238.75,392.6 L238.87,392.6 L238.99,392.6 L239.12,392.6 L239.24,392.6 L239.36,392.6 L239.48,392.6 L239.61,392.6 L239.73,392.6 L239.85,392.6 L239.97,392.6 L240.1,392.6 L240.22,392.6 L240.34,392.6 L240.46,392.6 L240.59,392.6 L240.71,392.6 L240.83,392.6 L240.95,392.6 L241.08,392.6 L241.2,392.6 L241.32,392.6 L241.44,392.6 L241.57,392.6 L241.69,392.6 L241.81,392.6 L241.93,392.6 L242.06,392.6 L242.18,392.6 L242.3,392.6" fill="none" stroke="#4466ee" stroke-width="1.3"/>
<g fill="none" stroke="#5e5e5e" stroke-width="0.85"><circle cx="193.6" cy="356.9" r="1.75"/><circle cx="195.9" cy="365.7" r="1.75"/><circle cx="191" cy="378.6" r="1.75"/><circle cx="208.5" cy="378.1" r="1.75"/><circle cx="148.2" cy="383.9" r="1.75"/><circle cx="153.2" cy="384.2" r="1.75"/><circle cx="163.1" cy="384.2" r="1.75"/><circle cx="173.3" cy="383.9" r="1.75"/><circle cx="183.4" cy="384.2" r="1.75"/><circle cx="188.5" cy="385.8" r="1.75"/><circle cx="198.7" cy="385" r="1.75"/><circle cx="155.8" cy="389.4" r="1.75"/><circle cx="158.1" cy="392.7" r="1.75"/><circle cx="168" cy="389.9" r="1.75"/><circle cx="165.9" cy="394.8" r="1.75"/><circle cx="175.7" cy="392.1" r="1.75"/><circle cx="178.2" cy="395.3" r="1.75"/><circle cx="200.8" cy="391.1" r="1.75"/><circle cx="216" cy="386.5" r="1.75"/><circle cx="220.9" cy="388.6" r="1.75"/><circle cx="213.7" cy="390.4" r="1.75"/><circle cx="218.6" cy="394.5" r="1.75"/><circle cx="223.6" cy="394.5" r="1.75"/><circle cx="226.2" cy="392.7" r="1.75"/><circle cx="228.6" cy="390.8" r="1.75"/><circle cx="231.1" cy="386.2" r="1.75"/><circle cx="236.2" cy="383.9" r="1.75"/><circle cx="240.9" cy="383.9" r="1.75"/><circle cx="233.7" cy="391.9" r="1.75"/><circle cx="238.8" cy="392.1" r="1.75"/><circle cx="145.6" cy="398.6" r="1.75"/><circle cx="150.7" cy="400.2" r="1.75"/><circle cx="160.7" cy="400.9" r="1.75"/><circle cx="170.8" cy="400.4" r="1.75"/><circle cx="181" cy="400.2" r="1.75"/><circle cx="185.9" cy="401.1" r="1.75"/><circle cx="206" cy="398.4" r="1.75"/><circle cx="211" cy="397.3" r="1.75"/><circle cx="203.6" cy="403" r="1.75"/></g>
</g>
<rect x="144.3" y="273.0" width="98.0" height="137.8" fill="none" stroke="#3a3a3a" stroke-width="1.0"/>
<text x="236.8" y="293" font-size="10.8" text-anchor="end" fill="#2a2324" stroke="#2a2324" stroke-width="0.25" font-weight="normal" font-style="normal" >35 W cm<tspan font-size="7" dy="-4">-2</tspan></text>
<text x="166.8" y="422.6" font-size="10.8" text-anchor="middle" fill="#2a2324" stroke="#2a2324" stroke-width="0.25" font-weight="normal" font-style="normal" >-5</text>
<text x="193.3" y="422.6" font-size="10.8" text-anchor="middle" fill="#2a2324" stroke="#2a2324" stroke-width="0.25" font-weight="normal" font-style="normal" >0</text>
<text x="217.8" y="422.6" font-size="10.8" text-anchor="middle" fill="#2a2324" stroke="#2a2324" stroke-width="0.25" font-weight="normal" font-style="normal" >5</text>
<text x="193.3" y="434.3" font-size="10.8" text-anchor="middle" fill="#2a2324" stroke="#2a2324" stroke-width="0.25" font-weight="normal" font-style="normal" ><tspan font-style="italic">t</tspan> (ns)</text>
</g>
<g>
<g stroke="#333" stroke-width="0.9"><line x1="247.6" y1="280.4" x2="250.4" y2="280.4"/><line x1="247.6" y1="317.8" x2="250.4" y2="317.8"/><line x1="247.6" y1="355.2" x2="250.4" y2="355.2"/><line x1="247.6" y1="392.6" x2="250.4" y2="392.6"/><line x1="247.6" y1="299.1" x2="249.2" y2="299.1"/><line x1="247.6" y1="336.5" x2="249.2" y2="336.5"/><line x1="247.6" y1="373.9" x2="249.2" y2="373.9"/><line x1="259.85" y1="410.8" x2="259.85" y2="409.2"/><line x1="272.1" y1="410.8" x2="272.1" y2="408"/><line x1="284.35" y1="410.8" x2="284.35" y2="409.2"/><line x1="296.6" y1="410.8" x2="296.6" y2="408"/><line x1="308.85" y1="410.8" x2="308.85" y2="409.2"/><line x1="321.1" y1="410.8" x2="321.1" y2="408"/><line x1="333.35" y1="410.8" x2="333.35" y2="409.2"/></g>
<clipPath id="ce2"><rect x="247.6" y="273.0" width="98.0" height="137.8"/></clipPath>
<g clip-path="url(#ce2)">
<path d="M247.6,393 L248.09,392.99 L248.58,392.97 L249.07,392.96 L249.56,392.95 L250.05,392.94 L250.54,392.93 L251.03,392.91 L251.52,392.9 L252.01,392.89 L252.5,392.87 L252.99,392.86 L253.48,392.84 L253.97,392.83 L254.46,392.81 L254.95,392.8 L255.44,392.78 L255.93,392.77 L256.42,392.75 L256.91,392.73 L257.4,392.72 L257.89,392.7 L258.38,392.68 L258.87,392.66 L259.36,392.64 L259.85,392.62 L260.34,392.6 L260.83,392.58 L261.32,392.56 L261.81,392.54 L262.3,392.52 L262.79,392.5 L263.28,392.48 L263.77,392.45 L264.26,392.43 L264.75,392.41 L265.24,392.38 L265.73,392.36 L266.22,392.33 L266.71,392.3 L267.2,392.28 L267.69,392.25 L268.18,392.22 L268.67,392.19 L269.16,392.16 L269.65,392.13 L270.14,392.1 L270.63,392.07 L271.12,392.04 L271.61,392.01 L272.1,391.97 L272.59,391.94 L273.08,391.9 L273.57,391.87 L274.06,391.83 L274.55,391.79 L275.04,391.76 L275.53,391.72 L276.02,391.68 L276.51,391.64 L277,391.59 L277.49,391.55 L277.98,391.51 L278.47,391.46 L278.96,391.42 L279.45,391.37 L279.94,391.32 L280.43,391.27 L280.92,391.22 L281.41,391.17 L281.9,391.12 L282.39,391.07 L282.88,391.01 L283.37,390.95 L283.86,390.9 L284.35,390.84 L284.84,390.78 L285.33,390.72 L285.82,390.66 L286.31,390.59 L286.8,390.53 L287.29,390.46 L287.78,390.39 L288.27,390.32 L288.76,390.25 L289.25,390.18 L289.74,390.1 L290.23,390.03 L290.72,389.95 L291.21,389.87 L291.7,389.79 L292.19,389.7 L292.68,389.62 L293.17,389.53 L293.66,389.44 L294.15,389.35 L294.64,389.26 L295.13,389.16 L295.62,389.06 L296.11,388.96 L296.6,388.86 L297.09,388.96 L297.58,389.06 L298.07,389.16 L298.56,389.26 L299.05,389.35 L299.54,389.44 L300.03,389.53 L300.52,389.62 L301.01,389.7 L301.5,389.79 L301.99,389.87 L302.48,389.95 L302.97,390.03 L303.46,390.1 L303.95,390.18 L304.44,390.25 L304.93,390.32 L305.42,390.39 L305.91,390.46 L306.4,390.53 L306.89,390.59 L307.38,390.66 L307.87,390.72 L308.36,390.78 L308.85,390.84 L309.34,390.9 L309.83,390.95 L310.32,391.01 L310.81,391.07 L311.3,391.12 L311.79,391.17 L312.28,391.22 L312.77,391.27 L313.26,391.32 L313.75,391.37 L314.24,391.42 L314.73,391.46 L315.22,391.51 L315.71,391.55 L316.2,391.59 L316.69,391.64 L317.18,391.68 L317.67,391.72 L318.16,391.76 L318.65,391.79 L319.14,391.83 L319.63,391.87 L320.12,391.9 L320.61,391.94 L321.1,391.97 L321.59,392.01 L322.08,392.04 L322.57,392.07 L323.06,392.1 L323.55,392.13 L324.04,392.16 L324.53,392.19 L325.02,392.22 L325.51,392.25 L326,392.28 L326.49,392.3 L326.98,392.33 L327.47,392.36 L327.96,392.38 L328.45,392.41 L328.94,392.43 L329.43,392.45 L329.92,392.48 L330.41,392.5 L330.9,392.52 L331.39,392.54 L331.88,392.56 L332.37,392.58 L332.86,392.6 L333.35,392.62 L333.84,392.64 L334.33,392.66 L334.82,392.68 L335.31,392.7 L335.8,392.72 L336.29,392.73 L336.78,392.75 L337.27,392.77 L337.76,392.78 L338.25,392.8 L338.74,392.81 L339.23,392.83 L339.72,392.84 L340.21,392.86 L340.7,392.87 L341.19,392.89 L341.68,392.9 L342.17,392.91 L342.66,392.93 L343.15,392.94 L343.64,392.95 L344.13,392.96 L344.62,392.97 L345.11,392.99 L345.6,393" fill="none" stroke="#f39a4a" stroke-width="1.3"/>
<g fill="none" stroke="#5e5e5e" stroke-width="0.85"><circle cx="249.03" cy="391.84" r="1.75"/><circle cx="252.83" cy="393.35" r="1.75"/><circle cx="256.62" cy="392.14" r="1.75"/><circle cx="260.42" cy="392.9" r="1.75"/><circle cx="264.21" cy="390.93" r="1.75"/><circle cx="267.24" cy="392.44" r="1.75"/><circle cx="270.28" cy="393.66" r="1.75"/><circle cx="273.31" cy="391.38" r="1.75"/><circle cx="276.35" cy="392.9" r="1.75"/><circle cx="280.14" cy="391.84" r="1.75"/><circle cx="283.18" cy="393.66" r="1.75"/><circle cx="286.21" cy="392.14" r="1.75"/><circle cx="289.25" cy="393.96" r="1.75"/><circle cx="291.52" cy="393.35" r="1.75"/><circle cx="295.32" cy="393.66" r="1.75"/><circle cx="298.35" cy="387.89" r="1.75"/><circle cx="301.39" cy="388.8" r="1.75"/><circle cx="303.66" cy="391.23" r="1.75"/><circle cx="306.7" cy="392.14" r="1.75"/><circle cx="309.73" cy="390.62" r="1.75"/><circle cx="312.01" cy="393.05" r="1.75"/><circle cx="314.29" cy="394.42" r="1.75"/><circle cx="317.32" cy="391.84" r="1.75"/><circle cx="320.36" cy="390.93" r="1.75"/><circle cx="323.39" cy="392.44" r="1.75"/><circle cx="326.42" cy="391.38" r="1.75"/><circle cx="329.46" cy="392.14" r="1.75"/><circle cx="333.25" cy="392.9" r="1.75"/><circle cx="337.05" cy="391.84" r="1.75"/><circle cx="340.84" cy="392.44" r="1.75"/><circle cx="343.88" cy="391.23" r="1.75"/><circle cx="250.55" cy="393.66" r="1.75"/><circle cx="262.69" cy="393.35" r="1.75"/><circle cx="284.69" cy="391.38" r="1.75"/><circle cx="293.04" cy="391.84" r="1.75"/><circle cx="296.08" cy="392.44" r="1.75"/><circle cx="305.94" cy="393.35" r="1.75"/><circle cx="322.63" cy="393.35" r="1.75"/><circle cx="330.98" cy="393.35" r="1.75"/><circle cx="339.32" cy="393.05" r="1.75"/></g>
</g>
<rect x="247.6" y="273.0" width="98.0" height="137.8" fill="none" stroke="#3a3a3a" stroke-width="1.0"/>
<text x="340.1" y="293" font-size="10.8" text-anchor="end" fill="#2a2324" stroke="#2a2324" stroke-width="0.25" font-weight="normal" font-style="normal" >350 W cm<tspan font-size="7" dy="-4">-2</tspan></text>
<text x="270.1" y="422.6" font-size="10.8" text-anchor="middle" fill="#2a2324" stroke="#2a2324" stroke-width="0.25" font-weight="normal" font-style="normal" >-5</text>
<text x="296.6" y="422.6" font-size="10.8" text-anchor="middle" fill="#2a2324" stroke="#2a2324" stroke-width="0.25" font-weight="normal" font-style="normal" >0</text>
<text x="321.1" y="422.6" font-size="10.8" text-anchor="middle" fill="#2a2324" stroke="#2a2324" stroke-width="0.25" font-weight="normal" font-style="normal" >5</text>
<text x="296.6" y="434.3" font-size="10.8" text-anchor="middle" fill="#2a2324" stroke="#2a2324" stroke-width="0.25" font-weight="normal" font-style="normal" ><tspan font-style="italic">t</tspan> (ns)</text>
</g>
<g>
<g stroke="#333" stroke-width="0.9"><line x1="350.4" y1="280.4" x2="353.2" y2="280.4"/><line x1="350.4" y1="317.8" x2="353.2" y2="317.8"/><line x1="350.4" y1="355.2" x2="353.2" y2="355.2"/><line x1="350.4" y1="392.6" x2="353.2" y2="392.6"/><line x1="350.4" y1="299.1" x2="352" y2="299.1"/><line x1="350.4" y1="336.5" x2="352" y2="336.5"/><line x1="350.4" y1="373.9" x2="352" y2="373.9"/><line x1="362.65" y1="410.8" x2="362.65" y2="409.2"/><line x1="374.9" y1="410.8" x2="374.9" y2="408"/><line x1="387.15" y1="410.8" x2="387.15" y2="409.2"/><line x1="399.4" y1="410.8" x2="399.4" y2="408"/><line x1="411.65" y1="410.8" x2="411.65" y2="409.2"/><line x1="423.9" y1="410.8" x2="423.9" y2="408"/><line x1="436.15" y1="410.8" x2="436.15" y2="409.2"/></g>
<clipPath id="ce3"><rect x="350.4" y="273.0" width="98.0" height="137.8"/></clipPath>
<g clip-path="url(#ce3)">
<path d="M350.4,392.8 L448.4,392.8" fill="none" stroke="#e84a64" stroke-width="1.3"/>
<g fill="none" stroke="#5e5e5e" stroke-width="0.85"><circle cx="351.87" cy="391.62" r="1.75"/><circle cx="354.44" cy="391.87" r="1.75"/><circle cx="357.01" cy="393.67" r="1.75"/><circle cx="359.58" cy="390.89" r="1.75"/><circle cx="362.15" cy="393.11" r="1.75"/><circle cx="364.72" cy="393.11" r="1.75"/><circle cx="367.29" cy="390.14" r="1.75"/><circle cx="369.85" cy="392.77" r="1.75"/><circle cx="372.42" cy="392.93" r="1.75"/><circle cx="374.99" cy="391.1" r="1.75"/><circle cx="377.56" cy="391.97" r="1.75"/><circle cx="380.13" cy="392.92" r="1.75"/><circle cx="382.7" cy="391.22" r="1.75"/><circle cx="385.27" cy="393.7" r="1.75"/><circle cx="387.84" cy="393.2" r="1.75"/><circle cx="390.41" cy="392.06" r="1.75"/><circle cx="392.98" cy="394" r="1.75"/><circle cx="395.55" cy="394.14" r="1.75"/><circle cx="398.12" cy="393.04" r="1.75"/><circle cx="400.68" cy="393.1" r="1.75"/><circle cx="403.25" cy="393.04" r="1.75"/><circle cx="405.82" cy="391.97" r="1.75"/><circle cx="408.39" cy="392.84" r="1.75"/><circle cx="410.96" cy="394" r="1.75"/><circle cx="413.53" cy="391.77" r="1.75"/><circle cx="416.1" cy="392.7" r="1.75"/><circle cx="418.67" cy="392.28" r="1.75"/><circle cx="421.24" cy="392.4" r="1.75"/><circle cx="423.81" cy="393.23" r="1.75"/><circle cx="426.38" cy="394.56" r="1.75"/><circle cx="428.95" cy="392.12" r="1.75"/><circle cx="431.51" cy="394.71" r="1.75"/><circle cx="434.08" cy="394.07" r="1.75"/><circle cx="436.65" cy="390.8" r="1.75"/><circle cx="439.22" cy="394.71" r="1.75"/><circle cx="441.79" cy="392.24" r="1.75"/><circle cx="444.36" cy="391.43" r="1.75"/><circle cx="446.93" cy="393.16" r="1.75"/></g>
</g>
<rect x="350.4" y="273.0" width="98.0" height="137.8" fill="none" stroke="#3a3a3a" stroke-width="1.0"/>
<text x="442.9" y="293" font-size="10.8" text-anchor="end" fill="#2a2324" stroke="#2a2324" stroke-width="0.25" font-weight="normal" font-style="normal" >1200 W cm<tspan font-size="7" dy="-4">-2</tspan></text>
<text x="372.9" y="422.6" font-size="10.8" text-anchor="middle" fill="#2a2324" stroke="#2a2324" stroke-width="0.25" font-weight="normal" font-style="normal" >-5</text>
<text x="399.4" y="422.6" font-size="10.8" text-anchor="middle" fill="#2a2324" stroke="#2a2324" stroke-width="0.25" font-weight="normal" font-style="normal" >0</text>
<text x="423.9" y="422.6" font-size="10.8" text-anchor="middle" fill="#2a2324" stroke="#2a2324" stroke-width="0.25" font-weight="normal" font-style="normal" >5</text>
<text x="399.4" y="434.3" font-size="10.8" text-anchor="middle" fill="#2a2324" stroke="#2a2324" stroke-width="0.25" font-weight="normal" font-style="normal" ><tspan font-style="italic">t</tspan> (ns)</text>
</g>
<text x="38.6" y="284.3" font-size="10.8" text-anchor="end" fill="#2a2324" stroke="#2a2324" stroke-width="0.25" font-weight="normal" font-style="normal" >2.5</text>
<text x="38.6" y="321.7" font-size="10.8" text-anchor="end" fill="#2a2324" stroke="#2a2324" stroke-width="0.25" font-weight="normal" font-style="normal" >2.0</text>
<text x="38.6" y="359.1" font-size="10.8" text-anchor="end" fill="#2a2324" stroke="#2a2324" stroke-width="0.25" font-weight="normal" font-style="normal" >1.5</text>
<text x="38.6" y="396.5" font-size="10.8" text-anchor="end" fill="#2a2324" stroke="#2a2324" stroke-width="0.25" font-weight="normal" font-style="normal" >1.0</text>
<text transform="translate(17.6,338.9) rotate(-90)" font-size="10.8" text-anchor="middle" fill="#2a2324" stroke="#2a2324" stroke-width="0.25"><tspan font-style="italic">g</tspan><tspan font-size="7.2" dy="-4">(2)</tspan><tspan dy="4">(</tspan><tspan font-style="italic">t</tspan>)</text>
<text x="102.5" y="266.6" font-size="10.8" text-anchor="middle" fill="#2a2324" stroke="#2a2324" stroke-width="0.25" font-weight="normal" font-style="normal" >Power density</text>
<g stroke="#333" stroke-width="0.9"><line x1="500" y1="279.95" x2="502.8" y2="279.95"/><line x1="500" y1="317.3" x2="502.8" y2="317.3"/><line x1="500" y1="354.65" x2="502.8" y2="354.65"/><line x1="500" y1="392" x2="502.8" y2="392"/><line x1="500" y1="298.62" x2="501.6" y2="298.62"/><line x1="500" y1="335.98" x2="501.6" y2="335.98"/><line x1="500" y1="373.33" x2="501.6" y2="373.33"/><line x1="500" y1="410" x2="500" y2="407.2"/><line x1="512.87" y1="410" x2="512.87" y2="408.4"/><line x1="520.4" y1="410" x2="520.4" y2="408.4"/><line x1="525.74" y1="410" x2="525.74" y2="408.4"/><line x1="529.88" y1="410" x2="529.88" y2="408.4"/><line x1="533.27" y1="410" x2="533.27" y2="408.4"/><line x1="536.13" y1="410" x2="536.13" y2="408.4"/><line x1="538.61" y1="410" x2="538.61" y2="408.4"/><line x1="540.79" y1="410" x2="540.79" y2="408.4"/><line x1="542.75" y1="410" x2="542.75" y2="407.2"/><line x1="542.75" y1="410" x2="542.75" y2="407.2"/><line x1="555.62" y1="410" x2="555.62" y2="408.4"/><line x1="563.15" y1="410" x2="563.15" y2="408.4"/><line x1="568.49" y1="410" x2="568.49" y2="408.4"/><line x1="572.63" y1="410" x2="572.63" y2="408.4"/><line x1="576.02" y1="410" x2="576.02" y2="408.4"/><line x1="578.88" y1="410" x2="578.88" y2="408.4"/><line x1="581.36" y1="410" x2="581.36" y2="408.4"/><line x1="583.54" y1="410" x2="583.54" y2="408.4"/><line x1="585.5" y1="410" x2="585.5" y2="407.2"/><line x1="585.5" y1="410" x2="585.5" y2="407.2"/><line x1="598.37" y1="410" x2="598.37" y2="408.4"/><line x1="605.9" y1="410" x2="605.9" y2="408.4"/><line x1="611.24" y1="410" x2="611.24" y2="408.4"/><line x1="615.38" y1="410" x2="615.38" y2="408.4"/><line x1="618.77" y1="410" x2="618.77" y2="408.4"/><line x1="621.63" y1="410" x2="621.63" y2="408.4"/><line x1="624.11" y1="410" x2="624.11" y2="408.4"/><line x1="626.29" y1="410" x2="626.29" y2="408.4"/><line x1="628.25" y1="410" x2="628.25" y2="407.2"/><line x1="628.25" y1="410" x2="628.25" y2="407.2"/><line x1="641.12" y1="410" x2="641.12" y2="408.4"/><line x1="648.65" y1="410" x2="648.65" y2="408.4"/><line x1="653.99" y1="410" x2="653.99" y2="408.4"/><line x1="658.13" y1="410" x2="658.13" y2="408.4"/><line x1="661.52" y1="410" x2="661.52" y2="408.4"/><line x1="664.38" y1="410" x2="664.38" y2="408.4"/><line x1="666.86" y1="410" x2="666.86" y2="408.4"/><line x1="669.04" y1="410" x2="669.04" y2="408.4"/><line x1="671" y1="410" x2="671" y2="407.2"/></g>
<line x1="542.75" y1="273.6" x2="542.75" y2="410.0" stroke="#333" stroke-width="1" stroke-dasharray="5,3.2"/>
<clipPath id="cf"><rect x="500.0" y="272.6" width="171.0" height="137.39999999999998"/></clipPath>
<g clip-path="url(#cf)">
<line x1="500" y1="317.3" x2="542.9" y2="317.3" stroke="#8090f2" stroke-width="1.6"/>
<path d="M542.7,317.3 C544.75,317.38 551.6,317.52 555,317.8 C558.4,318.08 560.43,318.5 563.1,319 C565.77,319.5 568.48,320.07 571,320.8 C573.52,321.53 576.03,322.28 578.2,323.4 C580.37,324.52 582.2,325.88 584,327.5 C585.8,329.12 587.42,330.85 589,333.1 C590.58,335.35 592.07,338.12 593.5,341 C594.93,343.88 596.18,347.32 597.6,350.4 C599.02,353.48 600.55,356.63 602,359.5 C603.45,362.37 604.88,365.15 606.3,367.6 C607.72,370.05 609.07,372.22 610.5,374.2 C611.93,376.18 613.32,377.9 614.9,379.5 C616.48,381.1 618.2,382.53 620,383.8 C621.8,385.07 623.3,386.05 625.7,387.1 C628.1,388.15 631.18,389.4 634.4,390.1 C637.62,390.8 638.9,391.02 645,391.3 C651.1,391.58 666.67,391.72 671,391.8" fill="none" stroke="#f9bcbc" stroke-width="1.6" />
<path d="M542.7,317.3 C543.92,317.55 547.68,318.15 550,318.8 C552.32,319.45 554.6,320.25 556.6,321.2 C558.6,322.15 560.2,323.23 562,324.5 C563.8,325.77 565.73,327.13 567.4,328.8 C569.07,330.47 570.57,332.35 572,334.5 C573.43,336.65 574.75,339.28 576,341.7 C577.25,344.12 578.42,346.48 579.5,349 C580.58,351.52 581.42,354.13 582.5,356.8 C583.58,359.47 584.92,362.47 586,365 C587.08,367.53 587.83,369.8 589,372 C590.17,374.2 591.57,376.4 593,378.2 C594.43,380 596.02,381.5 597.6,382.8 C599.18,384.1 600.7,385.07 602.5,386 C604.3,386.93 606.32,387.73 608.4,388.4 C610.48,389.07 612.83,389.58 615,390 C617.17,390.42 617.23,390.63 621.4,390.9 C625.57,391.17 631.73,391.45 640,391.6 C648.27,391.75 665.83,391.77 671,391.8" fill="none" stroke="#92c84a" stroke-width="1.6" />
<path d="M542.7,317.3 C543.5,317.92 545.9,319.45 547.5,321 C549.1,322.55 550.75,324.5 552.3,326.6 C553.85,328.7 555.37,331.08 556.8,333.6 C558.23,336.12 559.65,339.07 560.9,341.7 C562.15,344.33 563.22,346.88 564.3,349.4 C565.38,351.92 566.33,354.4 567.4,356.8 C568.47,359.2 569.62,361.63 570.7,363.8 C571.78,365.97 572.68,367.67 573.9,369.8 C575.12,371.93 576.57,374.43 578,376.6 C579.43,378.77 580.83,381.1 582.5,382.8 C584.17,384.5 585.48,385.62 588,386.8 C590.52,387.98 593.93,389.17 597.6,389.9 C601.27,390.63 605.43,390.9 610,391.2 C614.57,391.5 614.83,391.6 625,391.7 C635.17,391.8 663.33,391.78 671,391.8" fill="none" stroke="#4ad4f4" stroke-width="1.6" stroke-dasharray="3.2,2.4"/>
<path d="M542.7,317.3 C543.33,317.97 545.27,319.75 546.5,321.3 C547.73,322.85 548.93,324.57 550.1,326.6 C551.27,328.63 552.42,330.98 553.5,333.5 C554.58,336.02 555.55,338.9 556.6,341.7 C557.65,344.5 558.72,347.42 559.8,350.3 C560.88,353.18 562.02,356.25 563.1,359 C564.18,361.75 565.22,364.28 566.3,366.8 C567.38,369.32 568.4,371.85 569.6,374.1 C570.8,376.35 572.07,378.5 573.5,380.3 C574.93,382.1 576.45,383.62 578.2,384.9 C579.95,386.18 581.83,387.17 584,388 C586.17,388.83 588.53,389.4 591.2,389.9 C593.87,390.4 596.53,390.72 600,391 C603.47,391.28 600.17,391.47 612,391.6 C623.83,391.73 661.17,391.77 671,391.8" fill="none" stroke="#38aaf2" stroke-width="1.6" />
<path d="M542.7,317.3 C542.97,318.5 543.78,321.87 544.3,324.5 C544.82,327.13 545.35,330.02 545.8,333.1 C546.25,336.18 546.63,339.77 547,343 C547.37,346.23 547.58,349.37 548,352.5 C548.42,355.63 548.97,358.92 549.5,361.8 C550.03,364.68 550.58,367.47 551.2,369.8 C551.82,372.13 552.48,374 553.2,375.8 C553.92,377.6 554.53,379.03 555.5,380.6 C556.47,382.17 557.73,383.93 559,385.2 C560.27,386.47 561.27,387.37 563.1,388.2 C564.93,389.03 567.48,389.7 570,390.2 C572.52,390.7 574.03,390.95 578.2,391.2 C582.37,391.45 579.53,391.6 595,391.7 C610.47,391.8 658.33,391.78 671,391.8" fill="none" stroke="#8090f2" stroke-width="1.6" />
<g stroke="#b46ee6" stroke-width="0.9" fill="none">
<line x1="526.3" y1="272" x2="526.3" y2="333.5"/><line x1="524.1" y1="333.5" x2="528.5" y2="333.5"/>
<circle cx="526.3" cy="295.6" r="2.5" fill="#fff"/>
<line x1="566.2" y1="346.4" x2="566.2" y2="360.2"/><line x1="564" y1="346.4" x2="568.4" y2="346.4"/><line x1="564" y1="360.2" x2="568.4" y2="360.2"/>
<circle cx="566.2" cy="353.2" r="2.5" fill="#fff" fill-opacity="0.6"/>
<circle cx="608.9" cy="387.8" r="2.5" fill="#fff" fill-opacity="0.5"/>
<circle cx="631.7" cy="391.2" r="2.5" fill="#fff" fill-opacity="0.5"/>
</g>
</g>
<rect x="500.0" y="272.6" width="171.0" height="137.39999999999998" fill="none" stroke="#3a3a3a" stroke-width="1.0"/>
<text x="496.6" y="283.85" font-size="10.8" text-anchor="end" fill="#2a2324" stroke="#2a2324" stroke-width="0.25" font-weight="normal" font-style="normal" >2.5</text>
<text x="496.6" y="321.2" font-size="10.8" text-anchor="end" fill="#2a2324" stroke="#2a2324" stroke-width="0.25" font-weight="normal" font-style="normal" >2.0</text>
<text x="496.6" y="358.55" font-size="10.8" text-anchor="end" fill="#2a2324" stroke="#2a2324" stroke-width="0.25" font-weight="normal" font-style="normal" >1.5</text>
<text x="496.6" y="395.9" font-size="10.8" text-anchor="end" fill="#2a2324" stroke="#2a2324" stroke-width="0.25" font-weight="normal" font-style="normal" >1.0</text>
<text x="500" y="422.5" font-size="10.8" text-anchor="middle" fill="#2a2324" stroke="#2a2324" stroke-width="0.25" font-weight="normal" font-style="normal" >1</text>
<text x="542.75" y="422.5" font-size="10.8" text-anchor="middle" fill="#2a2324" stroke="#2a2324" stroke-width="0.25" font-weight="normal" font-style="normal" >10</text>
<text x="585.5" y="422.5" font-size="10.8" text-anchor="middle" fill="#2a2324" stroke="#2a2324" stroke-width="0.25" font-weight="normal" font-style="normal" >100</text>
<text x="628.25" y="422.5" font-size="10.8" text-anchor="middle" fill="#2a2324" stroke="#2a2324" stroke-width="0.25" font-weight="normal" font-style="normal" >1000</text>
<text x="671" y="422.5" font-size="10.8" text-anchor="middle" fill="#2a2324" stroke="#2a2324" stroke-width="0.25" font-weight="normal" font-style="normal" >10000</text>
<text x="585.3" y="436.6" font-size="10.8" text-anchor="middle" fill="#2a2324" stroke="#2a2324" stroke-width="0.25" font-weight="normal" font-style="normal" >Power density (W cm<tspan font-size="7" dy="-4">-2</tspan><tspan dy="4">)</tspan></text>
<text transform="translate(477.0,338.6) rotate(-90)" font-size="10.8" text-anchor="middle" fill="#2a2324" stroke="#2a2324" stroke-width="0.25"><tspan font-style="italic">g</tspan><tspan font-size="7.2" dy="-4">(2)</tspan><tspan dy="4">(0)</tspan></text>
<circle cx="625.5" cy="285.9" r="2.6" fill="none" stroke="#b070e0" stroke-width="0.9"/>
<text x="637.5" y="289.5" font-size="10.8" text-anchor="start" fill="#2a2324" stroke="#2a2324" stroke-width="0.25" font-weight="normal" font-style="normal" >Data</text>
<text x="643" y="304" font-size="11" text-anchor="start" fill="#2a2324" stroke="#2a2324" stroke-width="0.25" font-weight="normal" font-style="italic" >&#946;</text>
<line x1="618" y1="315" x2="638.2" y2="315" stroke="#f9bcbc" stroke-width="1.7" />
<text x="640.6" y="318.7" font-size="9.6" text-anchor="start" fill="#2a2324" stroke="#2a2324" stroke-width="0.25" font-weight="normal" font-style="normal" >10<tspan font-size="6.5" dy="-3.6">-1</tspan></text>
<line x1="618" y1="327.2" x2="638.2" y2="327.2" stroke="#92c84a" stroke-width="1.7" />
<text x="640.6" y="330.9" font-size="9.6" text-anchor="start" fill="#2a2324" stroke="#2a2324" stroke-width="0.25" font-weight="normal" font-style="normal" >10<tspan font-size="6.5" dy="-3.6">-2</tspan></text>
<line x1="618" y1="339.4" x2="638.2" y2="339.4" stroke="#4ad4f4" stroke-width="1.7" stroke-dasharray="3.5,2.6"/>
<text x="640.6" y="343.1" font-size="9.6" text-anchor="start" fill="#2a2324" stroke="#2a2324" stroke-width="0.25" font-weight="normal" font-style="normal" >2&#215;10<tspan font-size="6.5" dy="-3.6">-3</tspan></text>
<line x1="618" y1="351.6" x2="638.2" y2="351.6" stroke="#38aaf2" stroke-width="1.7" />
<text x="640.6" y="355.3" font-size="9.6" text-anchor="start" fill="#2a2324" stroke="#2a2324" stroke-width="0.25" font-weight="normal" font-style="normal" >10<tspan font-size="6.5" dy="-3.6">-3</tspan></text>
<line x1="618" y1="363.8" x2="638.2" y2="363.8" stroke="#8090f2" stroke-width="1.7" />
<text x="640.6" y="367.5" font-size="9.6" text-anchor="start" fill="#2a2324" stroke="#2a2324" stroke-width="0.25" font-weight="normal" font-style="normal" >10<tspan font-size="6.5" dy="-3.6">-4</tspan></text>
<text x="-0.5" y="22.6" font-size="14.5" text-anchor="start" fill="#000" stroke="#000" stroke-width="0.35" font-weight="bold" font-style="normal" >a</text>
<text x="104.9" y="128.7" font-size="14.5" text-anchor="start" fill="#000" stroke="#000" stroke-width="0.35" font-weight="bold" font-style="normal" >b</text>
<text x="256.5" y="138.9" font-size="14.5" text-anchor="start" fill="#000" stroke="#000" stroke-width="0.35" font-weight="bold" font-style="normal" >c</text>
<text x="461.8" y="30.3" font-size="14.5" text-anchor="start" fill="#000" stroke="#000" stroke-width="0.35" font-weight="bold" font-style="normal" >d</text>
<text x="2.6" y="265.3" font-size="14.5" text-anchor="start" fill="#000" stroke="#000" stroke-width="0.35" font-weight="bold" font-style="normal" >e</text>
<text x="460.2" y="265.3" font-size="14.5" text-anchor="start" fill="#000" stroke="#000" stroke-width="0.35" font-weight="bold" font-style="normal" >f</text>
</svg></body></html>
